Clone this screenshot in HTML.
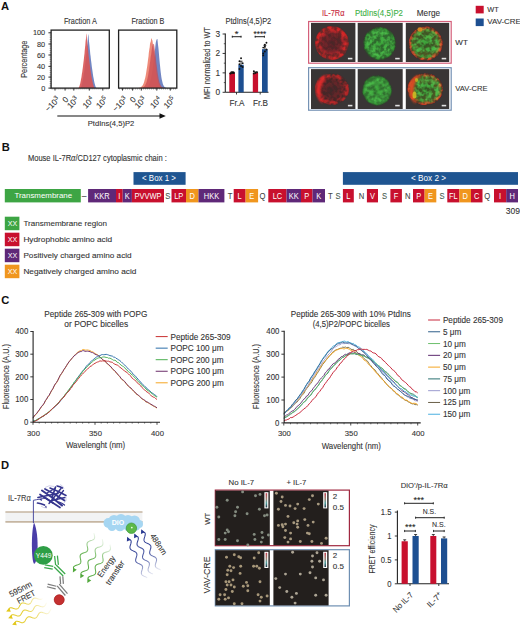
<!DOCTYPE html>
<html><head><meta charset="utf-8"><style>html,body{margin:0;padding:0;background:#fff;width:520px;height:626px;overflow:hidden}svg{display:block}text{font-variant-ligatures:none;font-kerning:normal}</style></head><body>
<svg width="520" height="626" viewBox="0 0 520 626" font-family='"Liberation Sans", sans-serif'>
<defs><filter id="tA" x="-10%" y="-10%" width="120%" height="120%"><feTurbulence type="fractalNoise" baseFrequency="0.24" numOctaves="2" seed="3" result="n"/><feColorMatrix in="n" type="matrix" values="0 0 0 0 0  0 0 0 0 0  0 0 0 0 0  3.0 0 0 0 -1.0" result="m"/><feComposite in="SourceGraphic" in2="m" operator="in" result="c"/><feGaussianBlur in="c" stdDeviation="0.6"/></filter><filter id="tB" x="-10%" y="-10%" width="120%" height="120%"><feTurbulence type="fractalNoise" baseFrequency="0.26" numOctaves="2" seed="9" result="n"/><feColorMatrix in="n" type="matrix" values="0 0 0 0 0  0 0 0 0 0  0 0 0 0 0  3.0 0 0 0 -1.0" result="m"/><feComposite in="SourceGraphic" in2="m" operator="in" result="c"/><feGaussianBlur in="c" stdDeviation="0.6"/></filter><filter id="tC" x="-10%" y="-10%" width="120%" height="120%"><feTurbulence type="fractalNoise" baseFrequency="0.25" numOctaves="2" seed="15" result="n"/><feColorMatrix in="n" type="matrix" values="0 0 0 0 0  0 0 0 0 0  0 0 0 0 0  3.0 0 0 0 -1.0" result="m"/><feComposite in="SourceGraphic" in2="m" operator="in" result="c"/><feGaussianBlur in="c" stdDeviation="0.6"/></filter><filter id="tD" x="-10%" y="-10%" width="120%" height="120%"><feTurbulence type="fractalNoise" baseFrequency="0.24" numOctaves="2" seed="21" result="n"/><feColorMatrix in="n" type="matrix" values="0 0 0 0 0  0 0 0 0 0  0 0 0 0 0  3.0 0 0 0 -1.0" result="m"/><feComposite in="SourceGraphic" in2="m" operator="in" result="c"/><feGaussianBlur in="c" stdDeviation="0.6"/></filter><filter id="tE" x="-10%" y="-10%" width="120%" height="120%"><feTurbulence type="fractalNoise" baseFrequency="0.26" numOctaves="2" seed="27" result="n"/><feColorMatrix in="n" type="matrix" values="0 0 0 0 0  0 0 0 0 0  0 0 0 0 0  3.0 0 0 0 -1.0" result="m"/><feComposite in="SourceGraphic" in2="m" operator="in" result="c"/><feGaussianBlur in="c" stdDeviation="0.6"/></filter><filter id="tF" x="-10%" y="-10%" width="120%" height="120%"><feTurbulence type="fractalNoise" baseFrequency="0.25" numOctaves="2" seed="33" result="n"/><feColorMatrix in="n" type="matrix" values="0 0 0 0 0  0 0 0 0 0  0 0 0 0 0  3.0 0 0 0 -1.0" result="m"/><feComposite in="SourceGraphic" in2="m" operator="in" result="c"/><feGaussianBlur in="c" stdDeviation="0.6"/></filter><filter id="tG" x="-10%" y="-10%" width="120%" height="120%"><feTurbulence type="fractalNoise" baseFrequency="0.25" numOctaves="2" seed="41" result="n"/><feColorMatrix in="n" type="matrix" values="0 0 0 0 0  0 0 0 0 0  0 0 0 0 0  3.0 0 0 0 -1.0" result="m"/><feComposite in="SourceGraphic" in2="m" operator="in" result="c"/><feGaussianBlur in="c" stdDeviation="0.6"/></filter><filter id="tH" x="-10%" y="-10%" width="120%" height="120%"><feTurbulence type="fractalNoise" baseFrequency="0.25" numOctaves="2" seed="47" result="n"/><feColorMatrix in="n" type="matrix" values="0 0 0 0 0  0 0 0 0 0  0 0 0 0 0  3.0 0 0 0 -1.0" result="m"/><feComposite in="SourceGraphic" in2="m" operator="in" result="c"/><feGaussianBlur in="c" stdDeviation="0.6"/></filter><filter id="blur03"><feGaussianBlur stdDeviation="0.35"/></filter><filter id="blur06"><feGaussianBlur stdDeviation="0.6"/></filter><filter id="blur1"><feGaussianBlur stdDeviation="1"/></filter><radialGradient id="redRing"><stop offset="0" stop-color="#d01828" stop-opacity="0.2"/><stop offset="0.5" stop-color="#e02030" stop-opacity="0.35"/><stop offset="0.8" stop-color="#f42828" stop-opacity="0.95"/><stop offset="0.92" stop-color="#f02020" stop-opacity="0.9"/><stop offset="1" stop-color="#d01020" stop-opacity="0"/></radialGradient><radialGradient id="redBase"><stop offset="0" stop-color="#461c1c" stop-opacity="0.7"/><stop offset="0.8" stop-color="#581a1a" stop-opacity="0.85"/><stop offset="1" stop-color="#501818" stop-opacity="0"/></radialGradient><radialGradient id="greenCell"><stop offset="0" stop-color="#40c840" stop-opacity="0.8"/><stop offset="0.7" stop-color="#50d850" stop-opacity="0.92"/><stop offset="0.9" stop-color="#38b838" stop-opacity="0.75"/><stop offset="1" stop-color="#108010" stop-opacity="0"/></radialGradient><radialGradient id="greenBase"><stop offset="0" stop-color="#226a22" stop-opacity="0.9"/><stop offset="0.85" stop-color="#247a24" stop-opacity="0.9"/><stop offset="1" stop-color="#184018" stop-opacity="0"/></radialGradient><radialGradient id="mergeRim"><stop offset="0" stop-color="#ff3020" stop-opacity="0"/><stop offset="0.72" stop-color="#ff3020" stop-opacity="0.1"/><stop offset="0.86" stop-color="#ff4020" stop-opacity="0.9"/><stop offset="0.95" stop-color="#f02818" stop-opacity="0.8"/><stop offset="1" stop-color="#d01010" stop-opacity="0"/></radialGradient><radialGradient id="mergeBase"><stop offset="0" stop-color="#2e6a1e" stop-opacity="0.95"/><stop offset="0.75" stop-color="#4a6a1e" stop-opacity="0.95"/><stop offset="0.92" stop-color="#7a3a1a" stop-opacity="0.9"/><stop offset="1" stop-color="#401818" stop-opacity="0"/></radialGradient><linearGradient id="gg0" gradientUnits="userSpaceOnUse" x1="94.9" y1="533.5" x2="73.1" y2="572.0"><stop offset="0" stop-color="#52a83c" stop-opacity="0.08"/><stop offset="0.45" stop-color="#52a83c" stop-opacity="0.85"/><stop offset="1" stop-color="#52a83c" stop-opacity="1"/></linearGradient><linearGradient id="gg1" gradientUnits="userSpaceOnUse" x1="103.4" y1="539.8" x2="80.5" y2="577.9"><stop offset="0" stop-color="#52a83c" stop-opacity="0.08"/><stop offset="0.45" stop-color="#52a83c" stop-opacity="0.85"/><stop offset="1" stop-color="#52a83c" stop-opacity="1"/></linearGradient><linearGradient id="gg2" gradientUnits="userSpaceOnUse" x1="110.8" y1="545.1" x2="87.5" y2="582.5"><stop offset="0" stop-color="#52a83c" stop-opacity="0.08"/><stop offset="0.45" stop-color="#52a83c" stop-opacity="0.85"/><stop offset="1" stop-color="#52a83c" stop-opacity="1"/></linearGradient><linearGradient id="bb0" gradientUnits="userSpaceOnUse" x1="145.7" y1="578.5" x2="127.3" y2="537.3"><stop offset="0" stop-color="#2a3a92" stop-opacity="0.1"/><stop offset="0.45" stop-color="#2a3a92" stop-opacity="0.85"/><stop offset="1" stop-color="#2a3a92" stop-opacity="1"/></linearGradient><linearGradient id="bb1" gradientUnits="userSpaceOnUse" x1="152.0" y1="574.5" x2="134.5" y2="533.9"><stop offset="0" stop-color="#2a3a92" stop-opacity="0.1"/><stop offset="0.45" stop-color="#2a3a92" stop-opacity="0.85"/><stop offset="1" stop-color="#2a3a92" stop-opacity="1"/></linearGradient><linearGradient id="bb2" gradientUnits="userSpaceOnUse" x1="159.4" y1="570.5" x2="141.4" y2="529.7"><stop offset="0" stop-color="#2a3a92" stop-opacity="0.1"/><stop offset="0.45" stop-color="#2a3a92" stop-opacity="0.85"/><stop offset="1" stop-color="#2a3a92" stop-opacity="1"/></linearGradient><linearGradient id="yy0" gradientUnits="userSpaceOnUse" x1="42.0" y1="597.0" x2="6.6" y2="611.2"><stop offset="0" stop-color="#e2c81c" stop-opacity="0.05"/><stop offset="0.55" stop-color="#e2c81c" stop-opacity="0.85"/><stop offset="1" stop-color="#e2c81c" stop-opacity="1"/></linearGradient><linearGradient id="yy1" gradientUnits="userSpaceOnUse" x1="47.0" y1="603.5" x2="8.6" y2="618.0"><stop offset="0" stop-color="#e2c81c" stop-opacity="0.05"/><stop offset="0.55" stop-color="#e2c81c" stop-opacity="0.85"/><stop offset="1" stop-color="#e2c81c" stop-opacity="1"/></linearGradient><linearGradient id="yy2" gradientUnits="userSpaceOnUse" x1="52.0" y1="610.0" x2="12.6" y2="624.6"><stop offset="0" stop-color="#e2c81c" stop-opacity="0.05"/><stop offset="0.55" stop-color="#e2c81c" stop-opacity="0.85"/><stop offset="1" stop-color="#e2c81c" stop-opacity="1"/></linearGradient><linearGradient id="cbar" x1="0" y1="0" x2="0" y2="1"><stop offset="0" stop-color="#c04050"/><stop offset="0.4" stop-color="#a08070"/><stop offset="0.7" stop-color="#50a0a0"/><stop offset="1" stop-color="#203040"/></linearGradient><filter id="dotblur" x="-50%" y="-50%" width="200%" height="200%"><feGaussianBlur stdDeviation="0.45"/></filter></defs>
<rect width="520" height="626" fill="#fff"/>
<text x="1.00" y="9.90" font-size="11.2" text-anchor="start" fill="#111" font-weight="bold">A</text>
<text x="80.40" y="23.90" font-size="9.2" text-anchor="middle" fill="#333" stroke="#333" stroke-width="0.1" textLength="33" lengthAdjust="spacingAndGlyphs">Fraction A</text>
<path d="M79.00,88.10 L79.00,88.10 L79.20,88.10 L79.40,88.10 L79.60,88.10 L79.80,88.10 L80.00,88.10 L80.20,88.10 L80.40,88.06 L80.60,87.86 L80.80,87.55 L81.00,87.11 L81.20,86.62 L81.40,86.02 L81.60,85.42 L81.80,84.66 L82.00,83.84 L82.20,83.06 L82.40,82.02 L82.60,81.05 L82.80,80.22 L83.00,79.15 L83.20,77.87 L83.40,76.55 L83.60,75.50 L83.80,74.29 L84.00,72.87 L84.20,71.68 L84.40,70.16 L84.60,68.57 L84.80,67.01 L85.00,65.62 L85.20,64.02 L85.40,62.39 L85.60,60.51 L85.80,58.92 L86.00,57.39 L86.20,54.79 L86.40,53.20 L86.60,51.20 L86.80,49.77 L87.00,46.82 L87.20,44.94 L87.40,43.85 L87.60,41.48 L87.80,38.78 L88.00,36.61 L88.20,34.02 L88.40,34.82 L88.60,36.34 L88.80,38.72 L89.00,41.34 L89.20,42.99 L89.40,44.64 L89.60,46.68 L89.80,49.04 L90.00,50.85 L90.20,53.31 L90.40,54.91 L90.60,56.16 L90.80,58.27 L91.00,60.18 L91.20,61.54 L91.40,63.05 L91.60,64.67 L91.80,66.43 L92.00,67.89 L92.20,69.31 L92.40,70.59 L92.60,72.10 L92.80,73.49 L93.00,74.73 L93.20,76.13 L93.40,77.30 L93.60,78.23 L93.80,79.26 L94.00,80.40 L94.20,81.43 L94.40,82.40 L94.60,83.22 L94.80,83.98 L95.00,84.77 L95.20,85.49 L95.40,86.10 L95.60,86.69 L95.80,87.16 L96.00,87.55 L96.20,87.87 L96.40,88.06 L96.60,88.10 L96.80,88.10 L97.00,88.10 L97.00,88.10 Z" fill="#6a80c0" fill-opacity="0.95"/>
<path d="M77.50,88.10 L77.50,88.10 L77.70,88.10 L77.90,88.10 L78.10,88.10 L78.30,88.10 L78.50,88.06 L78.70,87.85 L78.90,87.53 L79.10,87.12 L79.30,86.62 L79.50,85.99 L79.70,85.36 L79.90,84.59 L80.10,83.89 L80.30,82.97 L80.50,82.00 L80.70,81.11 L80.90,79.91 L81.10,78.81 L81.30,77.92 L81.50,76.73 L81.70,75.30 L81.90,73.83 L82.10,72.72 L82.30,71.40 L82.50,69.86 L82.70,68.60 L82.90,66.95 L83.10,65.23 L83.30,63.56 L83.50,62.10 L83.70,60.39 L83.90,58.66 L84.10,56.64 L84.30,54.97 L84.50,53.38 L84.70,50.57 L84.90,48.92 L85.10,46.80 L85.30,45.34 L85.50,42.18 L85.70,40.21 L85.90,39.13 L86.10,36.63 L86.30,33.77 L86.50,33.74 L86.70,35.53 L86.90,38.42 L87.10,39.90 L87.30,42.16 L87.50,44.65 L87.70,46.24 L87.90,47.81 L88.10,49.76 L88.30,52.00 L88.50,53.73 L88.70,56.05 L88.90,57.58 L89.10,58.78 L89.30,60.77 L89.50,62.58 L89.70,63.88 L89.90,65.32 L90.10,66.85 L90.30,68.50 L90.50,69.88 L90.70,71.22 L90.90,72.43 L91.10,73.85 L91.30,75.15 L91.50,76.31 L91.70,77.61 L91.90,78.70 L92.10,79.58 L92.30,80.53 L92.50,81.58 L92.70,82.52 L92.90,83.40 L93.10,84.15 L93.30,84.84 L93.50,85.54 L93.70,86.17 L93.90,86.70 L94.10,87.19 L94.30,87.58 L94.50,87.87 L94.70,88.06 L94.90,88.10 L95.10,88.10 L95.30,88.10 L95.50,88.10 L95.50,88.10 Z" fill="#d85454" fill-opacity="0.9"/>
<rect x="51.10" y="30.10" width="58.20" height="58.00" fill="none" stroke="#222" stroke-width="1.3"/>
<line x1="55.00" y1="88.10" x2="55.00" y2="90.60" stroke="#222" stroke-width="0.9"/>
<line x1="65.10" y1="88.10" x2="65.10" y2="90.60" stroke="#222" stroke-width="0.9"/>
<line x1="73.80" y1="88.10" x2="73.80" y2="90.60" stroke="#222" stroke-width="0.9"/>
<line x1="89.30" y1="88.10" x2="89.30" y2="90.60" stroke="#222" stroke-width="0.9"/>
<line x1="102.80" y1="88.10" x2="102.80" y2="90.60" stroke="#222" stroke-width="0.9"/>
<line x1="52.10" y1="88.10" x2="52.10" y2="89.50" stroke="#333" stroke-width="0.5"/>
<line x1="54.10" y1="88.10" x2="54.10" y2="89.50" stroke="#333" stroke-width="0.5"/>
<line x1="56.10" y1="88.10" x2="56.10" y2="89.50" stroke="#333" stroke-width="0.5"/>
<line x1="58.10" y1="88.10" x2="58.10" y2="89.50" stroke="#333" stroke-width="0.5"/>
<line x1="60.10" y1="88.10" x2="60.10" y2="89.50" stroke="#333" stroke-width="0.5"/>
<line x1="62.10" y1="88.10" x2="62.10" y2="89.50" stroke="#333" stroke-width="0.5"/>
<line x1="64.10" y1="88.10" x2="64.10" y2="89.50" stroke="#333" stroke-width="0.5"/>
<line x1="66.10" y1="88.10" x2="66.10" y2="89.50" stroke="#333" stroke-width="0.5"/>
<line x1="68.10" y1="88.10" x2="68.10" y2="89.50" stroke="#333" stroke-width="0.5"/>
<line x1="70.10" y1="88.10" x2="70.10" y2="89.50" stroke="#333" stroke-width="0.5"/>
<line x1="72.10" y1="88.10" x2="72.10" y2="89.50" stroke="#333" stroke-width="0.5"/>
<line x1="74.10" y1="88.10" x2="74.10" y2="89.50" stroke="#333" stroke-width="0.5"/>
<line x1="76.10" y1="88.10" x2="76.10" y2="89.50" stroke="#333" stroke-width="0.5"/>
<line x1="78.10" y1="88.10" x2="78.10" y2="89.50" stroke="#333" stroke-width="0.5"/>
<line x1="80.10" y1="88.10" x2="80.10" y2="89.50" stroke="#333" stroke-width="0.5"/>
<line x1="82.10" y1="88.10" x2="82.10" y2="89.50" stroke="#333" stroke-width="0.5"/>
<line x1="84.10" y1="88.10" x2="84.10" y2="89.50" stroke="#333" stroke-width="0.5"/>
<line x1="86.10" y1="88.10" x2="86.10" y2="89.50" stroke="#333" stroke-width="0.5"/>
<line x1="88.10" y1="88.10" x2="88.10" y2="89.50" stroke="#333" stroke-width="0.5"/>
<line x1="90.10" y1="88.10" x2="90.10" y2="89.50" stroke="#333" stroke-width="0.5"/>
<line x1="92.10" y1="88.10" x2="92.10" y2="89.50" stroke="#333" stroke-width="0.5"/>
<line x1="94.10" y1="88.10" x2="94.10" y2="89.50" stroke="#333" stroke-width="0.5"/>
<line x1="96.10" y1="88.10" x2="96.10" y2="89.50" stroke="#333" stroke-width="0.5"/>
<line x1="98.10" y1="88.10" x2="98.10" y2="89.50" stroke="#333" stroke-width="0.5"/>
<line x1="100.10" y1="88.10" x2="100.10" y2="89.50" stroke="#333" stroke-width="0.5"/>
<line x1="102.10" y1="88.10" x2="102.10" y2="89.50" stroke="#333" stroke-width="0.5"/>
<line x1="104.10" y1="88.10" x2="104.10" y2="89.50" stroke="#333" stroke-width="0.5"/>
<line x1="106.10" y1="88.10" x2="106.10" y2="89.50" stroke="#333" stroke-width="0.5"/>
<line x1="108.10" y1="88.10" x2="108.10" y2="89.50" stroke="#333" stroke-width="0.5"/>
<text x="60.40" y="100.10" font-size="8.2" text-anchor="end" fill="#333" stroke="#333" stroke-width="0.1" transform="rotate(-45 60.40 100.10)">−10<tspan dy="-3" font-size="6">3</tspan></text>
<text x="69.10" y="100.10" font-size="8.2" text-anchor="end" fill="#333" stroke="#333" stroke-width="0.1" transform="rotate(-45 69.10 100.10)">0</text>
<text x="79.20" y="100.10" font-size="8.2" text-anchor="end" fill="#333" stroke="#333" stroke-width="0.1" transform="rotate(-45 79.20 100.10)">10<tspan dy="-3" font-size="6">3</tspan></text>
<text x="94.70" y="100.10" font-size="8.2" text-anchor="end" fill="#333" stroke="#333" stroke-width="0.1" transform="rotate(-45 94.70 100.10)">10<tspan dy="-3" font-size="6">4</tspan></text>
<text x="108.20" y="100.10" font-size="8.2" text-anchor="end" fill="#333" stroke="#333" stroke-width="0.1" transform="rotate(-45 108.20 100.10)">10<tspan dy="-3" font-size="6">5</tspan></text>
<text x="147.90" y="23.90" font-size="9.2" text-anchor="middle" fill="#333" stroke="#333" stroke-width="0.1" textLength="33" lengthAdjust="spacingAndGlyphs">Fraction B</text>
<path d="M140.00,88.10 L140.00,88.10 L140.30,88.10 L140.60,88.09 L140.90,88.09 L141.20,88.09 L141.50,88.09 L141.80,88.08 L142.10,88.08 L142.40,88.07 L142.70,88.06 L143.00,88.05 L143.30,88.03 L143.60,88.01 L143.90,87.99 L144.20,87.96 L144.50,87.92 L144.80,87.88 L145.10,87.82 L145.40,87.75 L145.70,87.68 L146.00,87.59 L146.30,87.45 L146.60,87.29 L146.90,87.14 L147.20,86.93 L147.50,86.67 L147.80,86.41 L148.10,86.05 L148.40,85.62 L148.70,85.14 L149.00,84.62 L149.30,83.99 L149.60,83.27 L149.90,82.39 L150.20,81.49 L150.50,80.52 L150.80,79.06 L151.10,77.83 L151.40,76.31 L151.70,74.93 L152.00,72.71 L152.30,70.85 L152.60,69.34 L152.90,67.01 L153.20,64.35 L153.50,61.93 L153.80,59.16 L154.10,57.20 L154.40,54.08 L154.70,51.70 L155.00,49.74 L155.30,46.87 L155.60,44.09 L155.90,42.09 L156.20,40.95 L156.50,39.39 L156.80,39.57 L157.10,39.03 L157.40,39.08 L157.70,41.74 L158.00,44.66 L158.30,46.90 L158.60,49.84 L158.90,53.23 L159.20,56.99 L159.50,60.23 L159.80,63.38 L160.10,66.20 L160.40,69.28 L160.70,71.98 L161.00,74.30 L161.30,76.64 L161.60,78.49 L161.90,79.89 L162.20,81.25 L162.50,82.58 L162.80,83.65 L163.10,84.55 L163.40,85.22 L163.70,85.77 L164.00,86.28 L164.30,86.69 L164.60,86.99 L164.90,87.26 L165.20,87.45 L165.50,87.60 L165.80,87.73 L166.10,87.82 L166.40,87.89 L166.70,87.95 L167.00,87.98 L167.00,88.10 Z" fill="#6a80c0" fill-opacity="0.95"/>
<path d="M138.00,88.10 L138.00,87.99 L138.30,87.95 L138.60,87.91 L138.90,87.87 L139.20,87.81 L139.50,87.74 L139.80,87.65 L140.10,87.54 L140.40,87.43 L140.70,87.28 L141.00,87.06 L141.30,86.86 L141.60,86.58 L141.90,86.32 L142.20,85.93 L142.50,85.48 L142.80,85.05 L143.10,84.39 L143.40,83.74 L143.70,83.16 L144.00,82.35 L144.30,81.28 L144.60,80.10 L144.90,79.11 L145.20,77.89 L145.50,76.38 L145.80,75.04 L146.10,73.28 L146.40,71.34 L146.70,69.36 L147.00,67.53 L147.30,65.41 L147.60,63.20 L147.90,60.66 L148.20,58.51 L148.50,56.50 L148.80,53.05 L149.10,51.11 L149.40,48.72 L149.70,47.33 L150.00,43.99 L150.30,42.42 L150.60,42.25 L150.90,40.63 L151.20,38.99 L151.50,38.53 L151.80,38.23 L152.10,40.02 L152.40,40.51 L152.70,42.47 L153.00,45.10 L153.30,46.86 L153.60,48.84 L153.90,51.51 L154.20,54.66 L154.50,57.25 L154.80,60.56 L155.10,62.93 L155.40,64.94 L155.70,67.71 L156.00,70.17 L156.30,72.05 L156.60,73.95 L156.90,75.79 L157.20,77.58 L157.50,79.04 L157.80,80.34 L158.10,81.44 L158.40,82.54 L158.70,83.46 L159.00,84.22 L159.30,84.95 L159.60,85.50 L159.90,85.92 L160.20,86.30 L160.50,86.67 L160.80,86.96 L161.10,87.19 L161.40,87.37 L161.70,87.51 L162.00,87.64 L162.30,87.74 L162.60,87.82 L162.90,87.89 L163.20,87.94 L163.50,87.97 L163.80,88.00 L164.10,88.03 L164.40,88.05 L164.70,88.06 L165.00,88.07 L165.00,88.10 Z" fill="#ec7a66" fill-opacity="0.88"/>
<path d="M139.00,88.10 L139.00,88.08 L139.29,88.07 L139.58,88.06 L139.87,88.05 L140.16,88.03 L140.44,88.01 L140.73,87.98 L141.02,87.95 L141.31,87.92 L141.60,87.87 L141.89,87.80 L142.18,87.73 L142.47,87.63 L142.76,87.54 L143.04,87.40 L143.33,87.23 L143.62,87.05 L143.91,86.79 L144.20,86.51 L144.49,86.25 L144.78,85.89 L145.07,85.40 L145.36,84.84 L145.64,84.33 L145.93,83.70 L146.22,82.91 L146.51,82.15 L146.80,81.14 L147.09,80.01 L147.38,78.80 L147.67,77.59 L147.96,76.17 L148.24,74.64 L148.53,72.83 L148.82,71.15 L149.11,69.47 L149.40,66.83 L149.69,64.99 L149.98,62.76 L150.27,61.07 L150.56,57.96 L150.84,55.91 L151.13,54.75 L151.42,52.44 L151.71,49.95 L152.00,48.20 L152.29,46.26 L152.58,45.81 L152.87,44.10 L153.16,43.72 L153.44,44.16 L153.73,44.12 L154.02,44.60 L154.31,46.07 L154.60,48.36 L154.89,50.23 L155.18,53.24 L155.47,55.27 L155.76,57.02 L156.04,59.98 L156.33,62.72 L156.62,64.78 L156.91,67.03 L157.20,69.34 L157.49,71.70 L157.78,73.65 L158.07,75.45 L158.36,77.02 L158.64,78.66 L158.93,80.07 L159.22,81.26 L159.51,82.43 L159.80,83.35 L160.09,84.04 L160.38,84.70 L160.67,85.35 L160.96,85.87 L161.24,86.31 L161.53,86.63 L161.82,86.90 L162.11,87.15 L162.40,87.36 L162.69,87.51 L162.98,87.65 L163.27,87.74 L163.56,87.82 L163.84,87.89 L164.13,87.94 L164.42,87.98 L164.71,88.01 L165.00,88.03 L165.00,88.10 Z" fill="#c84850" fill-opacity="0.7"/>
<rect x="118.60" y="30.10" width="58.20" height="58.00" fill="none" stroke="#222" stroke-width="1.3"/>
<line x1="122.50" y1="88.10" x2="122.50" y2="90.60" stroke="#222" stroke-width="0.9"/>
<line x1="132.60" y1="88.10" x2="132.60" y2="90.60" stroke="#222" stroke-width="0.9"/>
<line x1="141.30" y1="88.10" x2="141.30" y2="90.60" stroke="#222" stroke-width="0.9"/>
<line x1="156.80" y1="88.10" x2="156.80" y2="90.60" stroke="#222" stroke-width="0.9"/>
<line x1="170.30" y1="88.10" x2="170.30" y2="90.60" stroke="#222" stroke-width="0.9"/>
<line x1="119.60" y1="88.10" x2="119.60" y2="89.50" stroke="#333" stroke-width="0.5"/>
<line x1="121.60" y1="88.10" x2="121.60" y2="89.50" stroke="#333" stroke-width="0.5"/>
<line x1="123.60" y1="88.10" x2="123.60" y2="89.50" stroke="#333" stroke-width="0.5"/>
<line x1="125.60" y1="88.10" x2="125.60" y2="89.50" stroke="#333" stroke-width="0.5"/>
<line x1="127.60" y1="88.10" x2="127.60" y2="89.50" stroke="#333" stroke-width="0.5"/>
<line x1="129.60" y1="88.10" x2="129.60" y2="89.50" stroke="#333" stroke-width="0.5"/>
<line x1="131.60" y1="88.10" x2="131.60" y2="89.50" stroke="#333" stroke-width="0.5"/>
<line x1="133.60" y1="88.10" x2="133.60" y2="89.50" stroke="#333" stroke-width="0.5"/>
<line x1="135.60" y1="88.10" x2="135.60" y2="89.50" stroke="#333" stroke-width="0.5"/>
<line x1="137.60" y1="88.10" x2="137.60" y2="89.50" stroke="#333" stroke-width="0.5"/>
<line x1="139.60" y1="88.10" x2="139.60" y2="89.50" stroke="#333" stroke-width="0.5"/>
<line x1="141.60" y1="88.10" x2="141.60" y2="89.50" stroke="#333" stroke-width="0.5"/>
<line x1="143.60" y1="88.10" x2="143.60" y2="89.50" stroke="#333" stroke-width="0.5"/>
<line x1="145.60" y1="88.10" x2="145.60" y2="89.50" stroke="#333" stroke-width="0.5"/>
<line x1="147.60" y1="88.10" x2="147.60" y2="89.50" stroke="#333" stroke-width="0.5"/>
<line x1="149.60" y1="88.10" x2="149.60" y2="89.50" stroke="#333" stroke-width="0.5"/>
<line x1="151.60" y1="88.10" x2="151.60" y2="89.50" stroke="#333" stroke-width="0.5"/>
<line x1="153.60" y1="88.10" x2="153.60" y2="89.50" stroke="#333" stroke-width="0.5"/>
<line x1="155.60" y1="88.10" x2="155.60" y2="89.50" stroke="#333" stroke-width="0.5"/>
<line x1="157.60" y1="88.10" x2="157.60" y2="89.50" stroke="#333" stroke-width="0.5"/>
<line x1="159.60" y1="88.10" x2="159.60" y2="89.50" stroke="#333" stroke-width="0.5"/>
<line x1="161.60" y1="88.10" x2="161.60" y2="89.50" stroke="#333" stroke-width="0.5"/>
<line x1="163.60" y1="88.10" x2="163.60" y2="89.50" stroke="#333" stroke-width="0.5"/>
<line x1="165.60" y1="88.10" x2="165.60" y2="89.50" stroke="#333" stroke-width="0.5"/>
<line x1="167.60" y1="88.10" x2="167.60" y2="89.50" stroke="#333" stroke-width="0.5"/>
<line x1="169.60" y1="88.10" x2="169.60" y2="89.50" stroke="#333" stroke-width="0.5"/>
<line x1="171.60" y1="88.10" x2="171.60" y2="89.50" stroke="#333" stroke-width="0.5"/>
<line x1="173.60" y1="88.10" x2="173.60" y2="89.50" stroke="#333" stroke-width="0.5"/>
<line x1="175.60" y1="88.10" x2="175.60" y2="89.50" stroke="#333" stroke-width="0.5"/>
<text x="127.90" y="100.10" font-size="8.2" text-anchor="end" fill="#333" stroke="#333" stroke-width="0.1" transform="rotate(-45 127.90 100.10)">−10<tspan dy="-3" font-size="6">3</tspan></text>
<text x="136.60" y="100.10" font-size="8.2" text-anchor="end" fill="#333" stroke="#333" stroke-width="0.1" transform="rotate(-45 136.60 100.10)">0</text>
<text x="146.70" y="100.10" font-size="8.2" text-anchor="end" fill="#333" stroke="#333" stroke-width="0.1" transform="rotate(-45 146.70 100.10)">10<tspan dy="-3" font-size="6">3</tspan></text>
<text x="162.20" y="100.10" font-size="8.2" text-anchor="end" fill="#333" stroke="#333" stroke-width="0.1" transform="rotate(-45 162.20 100.10)">10<tspan dy="-3" font-size="6">4</tspan></text>
<text x="175.70" y="100.10" font-size="8.2" text-anchor="end" fill="#333" stroke="#333" stroke-width="0.1" transform="rotate(-45 175.70 100.10)">10<tspan dy="-3" font-size="6">5</tspan></text>
<line x1="48.40" y1="32.80" x2="51.10" y2="32.80" stroke="#222" stroke-width="0.9"/>
<text x="45.20" y="35.40" font-size="7.3" text-anchor="end" fill="#333" stroke="#333" stroke-width="0.1">100</text>
<line x1="48.40" y1="44.00" x2="51.10" y2="44.00" stroke="#222" stroke-width="0.9"/>
<text x="45.20" y="46.60" font-size="7.3" text-anchor="end" fill="#333" stroke="#333" stroke-width="0.1">80</text>
<line x1="48.40" y1="55.00" x2="51.10" y2="55.00" stroke="#222" stroke-width="0.9"/>
<text x="45.20" y="57.60" font-size="7.3" text-anchor="end" fill="#333" stroke="#333" stroke-width="0.1">60</text>
<line x1="48.40" y1="66.40" x2="51.10" y2="66.40" stroke="#222" stroke-width="0.9"/>
<text x="45.20" y="69.00" font-size="7.3" text-anchor="end" fill="#333" stroke="#333" stroke-width="0.1">40</text>
<line x1="48.40" y1="77.10" x2="51.10" y2="77.10" stroke="#222" stroke-width="0.9"/>
<text x="45.20" y="79.70" font-size="7.3" text-anchor="end" fill="#333" stroke="#333" stroke-width="0.1">20</text>
<line x1="48.40" y1="88.10" x2="51.10" y2="88.10" stroke="#222" stroke-width="0.9"/>
<text x="45.20" y="90.70" font-size="7.3" text-anchor="end" fill="#333" stroke="#333" stroke-width="0.1">0</text>
<line x1="49.70" y1="32.80" x2="51.10" y2="32.80" stroke="#333" stroke-width="0.5"/>
<line x1="49.70" y1="35.01" x2="51.10" y2="35.01" stroke="#333" stroke-width="0.5"/>
<line x1="49.70" y1="37.22" x2="51.10" y2="37.22" stroke="#333" stroke-width="0.5"/>
<line x1="49.70" y1="39.44" x2="51.10" y2="39.44" stroke="#333" stroke-width="0.5"/>
<line x1="49.70" y1="41.65" x2="51.10" y2="41.65" stroke="#333" stroke-width="0.5"/>
<line x1="49.70" y1="43.86" x2="51.10" y2="43.86" stroke="#333" stroke-width="0.5"/>
<line x1="49.70" y1="46.07" x2="51.10" y2="46.07" stroke="#333" stroke-width="0.5"/>
<line x1="49.70" y1="48.28" x2="51.10" y2="48.28" stroke="#333" stroke-width="0.5"/>
<line x1="49.70" y1="50.50" x2="51.10" y2="50.50" stroke="#333" stroke-width="0.5"/>
<line x1="49.70" y1="52.71" x2="51.10" y2="52.71" stroke="#333" stroke-width="0.5"/>
<line x1="49.70" y1="54.92" x2="51.10" y2="54.92" stroke="#333" stroke-width="0.5"/>
<line x1="49.70" y1="57.13" x2="51.10" y2="57.13" stroke="#333" stroke-width="0.5"/>
<line x1="49.70" y1="59.34" x2="51.10" y2="59.34" stroke="#333" stroke-width="0.5"/>
<line x1="49.70" y1="61.56" x2="51.10" y2="61.56" stroke="#333" stroke-width="0.5"/>
<line x1="49.70" y1="63.77" x2="51.10" y2="63.77" stroke="#333" stroke-width="0.5"/>
<line x1="49.70" y1="65.98" x2="51.10" y2="65.98" stroke="#333" stroke-width="0.5"/>
<line x1="49.70" y1="68.19" x2="51.10" y2="68.19" stroke="#333" stroke-width="0.5"/>
<line x1="49.70" y1="70.40" x2="51.10" y2="70.40" stroke="#333" stroke-width="0.5"/>
<line x1="49.70" y1="72.62" x2="51.10" y2="72.62" stroke="#333" stroke-width="0.5"/>
<line x1="49.70" y1="74.83" x2="51.10" y2="74.83" stroke="#333" stroke-width="0.5"/>
<line x1="49.70" y1="77.04" x2="51.10" y2="77.04" stroke="#333" stroke-width="0.5"/>
<line x1="49.70" y1="79.25" x2="51.10" y2="79.25" stroke="#333" stroke-width="0.5"/>
<line x1="49.70" y1="81.46" x2="51.10" y2="81.46" stroke="#333" stroke-width="0.5"/>
<line x1="49.70" y1="83.68" x2="51.10" y2="83.68" stroke="#333" stroke-width="0.5"/>
<line x1="49.70" y1="85.89" x2="51.10" y2="85.89" stroke="#333" stroke-width="0.5"/>
<line x1="49.70" y1="88.10" x2="51.10" y2="88.10" stroke="#333" stroke-width="0.5"/>
<text x="26.60" y="59.20" font-size="9.4" text-anchor="middle" fill="#333" stroke="#333" stroke-width="0.1" textLength="37" lengthAdjust="spacingAndGlyphs" transform="rotate(-90 26.60 59.20)">Percentage</text>
<line x1="57.30" y1="116.00" x2="162.00" y2="116.00" stroke="#111" stroke-width="1.1"/>
<path d="M165.8,116 L159.5,113.2 L159.5,118.8 Z" fill="#111"/>
<text x="111.00" y="125.90" font-size="7.6" text-anchor="middle" fill="#333" stroke="#333" stroke-width="0.1" textLength="46.4" lengthAdjust="spacingAndGlyphs">PtdIns(4,5)P2</text>
<text x="248.40" y="23.60" font-size="8.5" text-anchor="middle" fill="#333" stroke="#333" stroke-width="0.1" textLength="45.8" lengthAdjust="spacingAndGlyphs">PtdIns(4,5)P2</text>
<line x1="225.30" y1="33.50" x2="225.30" y2="92.30" stroke="#222" stroke-width="1.1"/>
<line x1="225.30" y1="92.30" x2="268.50" y2="92.30" stroke="#222" stroke-width="1.1"/>
<line x1="222.60" y1="92.30" x2="225.30" y2="92.30" stroke="#222" stroke-width="0.9"/>
<text x="220.20" y="95.20" font-size="8.3" text-anchor="end" fill="#333" stroke="#333" stroke-width="0.1">0</text>
<line x1="222.60" y1="72.87" x2="225.30" y2="72.87" stroke="#222" stroke-width="0.9"/>
<text x="220.20" y="75.77" font-size="8.3" text-anchor="end" fill="#333" stroke="#333" stroke-width="0.1">1</text>
<line x1="222.60" y1="53.44" x2="225.30" y2="53.44" stroke="#222" stroke-width="0.9"/>
<text x="220.20" y="56.34" font-size="8.3" text-anchor="end" fill="#333" stroke="#333" stroke-width="0.1">2</text>
<line x1="222.60" y1="34.01" x2="225.30" y2="34.01" stroke="#222" stroke-width="0.9"/>
<text x="220.20" y="36.91" font-size="8.3" text-anchor="end" fill="#333" stroke="#333" stroke-width="0.1">3</text>
<line x1="223.80" y1="82.58" x2="225.30" y2="82.58" stroke="#222" stroke-width="0.7"/>
<line x1="223.80" y1="63.16" x2="225.30" y2="63.16" stroke="#222" stroke-width="0.7"/>
<line x1="223.80" y1="43.72" x2="225.30" y2="43.72" stroke="#222" stroke-width="0.7"/>
<line x1="236.50" y1="92.30" x2="236.50" y2="94.50" stroke="#222" stroke-width="0.9"/>
<line x1="260.20" y1="92.30" x2="260.20" y2="94.50" stroke="#222" stroke-width="0.9"/>
<rect x="229.30" y="72.87" width="5.70" height="19.43" fill="#c8102e"/>
<line x1="232.15" y1="71.70" x2="232.15" y2="72.87" stroke="#111" stroke-width="0.8"/>
<line x1="230.65" y1="71.70" x2="233.65" y2="71.70" stroke="#111" stroke-width="0.8"/>
<rect x="238.40" y="64.71" width="5.30" height="27.59" fill="#1d4f91"/>
<line x1="241.05" y1="61.21" x2="241.05" y2="64.71" stroke="#111" stroke-width="0.8"/>
<line x1="239.55" y1="61.21" x2="242.55" y2="61.21" stroke="#111" stroke-width="0.8"/>
<rect x="252.80" y="72.87" width="5.30" height="19.43" fill="#c8102e"/>
<line x1="255.45" y1="71.90" x2="255.45" y2="72.87" stroke="#111" stroke-width="0.8"/>
<line x1="253.95" y1="71.90" x2="256.95" y2="71.90" stroke="#111" stroke-width="0.8"/>
<rect x="262.00" y="49.17" width="5.70" height="43.13" fill="#1d4f91"/>
<line x1="264.85" y1="45.28" x2="264.85" y2="49.17" stroke="#111" stroke-width="0.8"/>
<line x1="263.35" y1="45.28" x2="266.35" y2="45.28" stroke="#111" stroke-width="0.8"/>
<circle cx="230.55" cy="73.26" r="0.95" fill="#111"/>
<circle cx="232.15" cy="72.87" r="0.95" fill="#111"/>
<circle cx="233.75" cy="72.48" r="0.95" fill="#111"/>
<circle cx="230.55" cy="73.45" r="0.95" fill="#111"/>
<circle cx="232.15" cy="72.68" r="0.95" fill="#111"/>
<circle cx="233.75" cy="73.06" r="0.95" fill="#111"/>
<circle cx="239.45" cy="68.98" r="0.95" fill="#111"/>
<circle cx="241.05" cy="66.07" r="0.95" fill="#111"/>
<circle cx="242.65" cy="63.16" r="0.95" fill="#111"/>
<circle cx="239.45" cy="61.21" r="0.95" fill="#111"/>
<circle cx="241.05" cy="58.30" r="0.95" fill="#111"/>
<circle cx="242.65" cy="67.04" r="0.95" fill="#111"/>
<circle cx="239.45" cy="64.13" r="0.95" fill="#111"/>
<circle cx="253.85" cy="73.45" r="0.95" fill="#111"/>
<circle cx="255.45" cy="72.87" r="0.95" fill="#111"/>
<circle cx="257.05" cy="72.29" r="0.95" fill="#111"/>
<circle cx="253.85" cy="71.32" r="0.95" fill="#111"/>
<circle cx="255.45" cy="72.87" r="0.95" fill="#111"/>
<circle cx="263.25" cy="55.38" r="0.95" fill="#111"/>
<circle cx="264.85" cy="51.50" r="0.95" fill="#111"/>
<circle cx="266.45" cy="49.55" r="0.95" fill="#111"/>
<circle cx="263.25" cy="47.61" r="0.95" fill="#111"/>
<circle cx="264.85" cy="44.70" r="0.95" fill="#111"/>
<circle cx="266.45" cy="42.75" r="0.95" fill="#111"/>
<circle cx="263.25" cy="53.44" r="0.95" fill="#111"/>
<circle cx="264.85" cy="46.64" r="0.95" fill="#111"/>
<line x1="231.90" y1="36.70" x2="241.40" y2="36.70" stroke="#222" stroke-width="1.0"/>
<line x1="232.30" y1="35.70" x2="232.30" y2="37.70" stroke="#222" stroke-width="0.9"/>
<line x1="241.00" y1="35.70" x2="241.00" y2="37.70" stroke="#222" stroke-width="0.9"/>
<text x="236.70" y="37.20" font-size="9.5" text-anchor="middle" fill="#222" stroke="#222" stroke-width="0.1">*</text>
<line x1="254.80" y1="36.70" x2="264.80" y2="36.70" stroke="#222" stroke-width="1.0"/>
<line x1="255.20" y1="35.70" x2="255.20" y2="37.70" stroke="#222" stroke-width="0.9"/>
<line x1="264.40" y1="35.70" x2="264.40" y2="37.70" stroke="#222" stroke-width="0.9"/>
<text x="259.90" y="37.20" font-size="9.5" text-anchor="middle" fill="#222" stroke="#222" stroke-width="0.1" textLength="12.6" lengthAdjust="spacingAndGlyphs">****</text>
<text x="210.20" y="63.00" font-size="9.8" text-anchor="middle" fill="#333" stroke="#333" stroke-width="0.1" textLength="72" lengthAdjust="spacingAndGlyphs" transform="rotate(-90 210.20 63.00)">MFI normalized to WT</text>
<text x="236.90" y="105.70" font-size="8.5" text-anchor="middle" fill="#333" stroke="#333" stroke-width="0.1" textLength="15" lengthAdjust="spacingAndGlyphs">Fr.A</text>
<text x="260.50" y="105.70" font-size="8.5" text-anchor="middle" fill="#333" stroke="#333" stroke-width="0.1" textLength="15" lengthAdjust="spacingAndGlyphs">Fr.B</text>
<text x="333.30" y="15.80" font-size="8.4" text-anchor="middle" fill="#c8283c" stroke="#c8283c" stroke-width="0.1" textLength="22.5" lengthAdjust="spacingAndGlyphs">IL-7R&#945;</text>
<text x="379.00" y="15.80" font-size="8.4" text-anchor="middle" fill="#3cb043" stroke="#3cb043" stroke-width="0.1" textLength="48" lengthAdjust="spacingAndGlyphs">PtdIns(4,5)P2</text>
<text x="428.40" y="15.80" font-size="8.3" text-anchor="middle" fill="#333" stroke="#333" stroke-width="0.1" textLength="23.2" lengthAdjust="spacingAndGlyphs">Merge</text>
<rect x="475.70" y="5.80" width="8.00" height="7.60" fill="#c8102e"/>
<text x="487.30" y="12.10" font-size="8.0" text-anchor="start" fill="#333" stroke="#333" stroke-width="0.1" textLength="11.5" lengthAdjust="spacingAndGlyphs">WT</text>
<rect x="475.70" y="18.50" width="8.00" height="7.60" fill="#1d4f91"/>
<text x="487.30" y="24.30" font-size="8.0" text-anchor="start" fill="#333" stroke="#333" stroke-width="0.1" textLength="33.5" lengthAdjust="spacingAndGlyphs">VAV-CRE</text>
<text x="455.30" y="44.90" font-size="8.0" text-anchor="start" fill="#333" stroke="#333" stroke-width="0.1" textLength="12.5" lengthAdjust="spacingAndGlyphs">WT</text>
<text x="455.30" y="91.10" font-size="8.0" text-anchor="start" fill="#333" stroke="#333" stroke-width="0.1" textLength="32.2" lengthAdjust="spacingAndGlyphs">VAV-CRE</text>
<rect x="308.60" y="21.50" width="142.60" height="41.70" fill="none" stroke="#d4607a" stroke-width="1.2"/>
<rect x="311.00" y="22.90" width="44.40" height="39.10" fill="#393535"/>
<svg x="311.00" y="22.90" width="44.40" height="39.10" viewBox="311.00 22.90 44.40 39.10" overflow="hidden"><g opacity="0.86">
<ellipse cx="331.90" cy="43.00" rx="17.40" ry="17.60" fill="url(#redBase)" opacity="0.8"/>
<ellipse cx="331.90" cy="43.00" rx="17.40" ry="17.60" fill="url(#redRing)" filter="url(#tA)"/>
<ellipse cx="331.90" cy="43.00" rx="17.40" ry="17.60" fill="url(#redRing)" opacity="0.3"/>
</g></svg>
<rect x="347.90" y="57.80" width="4.50" height="1.60" fill="#ffffff" opacity="0.85"/>
<rect x="357.70" y="22.90" width="45.00" height="39.10" fill="#393535"/>
<svg x="357.70" y="22.90" width="45.00" height="39.10" viewBox="357.70 22.90 45.00 39.10" overflow="hidden"><g opacity="0.86">
<ellipse cx="379.50" cy="43.50" rx="16.80" ry="17.20" fill="url(#greenBase)" opacity="0.8"/>
<ellipse cx="379.50" cy="43.50" rx="16.80" ry="17.20" fill="url(#greenCell)" filter="url(#tB)"/>
<ellipse cx="379.50" cy="43.50" rx="16.80" ry="17.20" fill="url(#greenCell)" opacity="0.2"/>
</g></svg>
<rect x="395.20" y="57.80" width="4.50" height="1.60" fill="#ffffff" opacity="0.85"/>
<rect x="405.80" y="22.90" width="43.40" height="39.10" fill="#393535"/>
<svg x="405.80" y="22.90" width="43.40" height="39.10" viewBox="405.80 22.90 43.40 39.10" overflow="hidden"><g opacity="0.86">
<ellipse cx="425.70" cy="43.50" rx="17.40" ry="17.60" fill="url(#mergeBase)" opacity="0.8"/>
<ellipse cx="425.70" cy="43.50" rx="15.50" ry="15.70" fill="url(#greenCell)" filter="url(#tC)"/>
<ellipse cx="425.70" cy="43.50" rx="17.40" ry="17.60" fill="url(#mergeRim)" filter="url(#tG)" style="mix-blend-mode:screen"/>
<ellipse cx="420.00" cy="29.50" rx="2.60" ry="2.20" fill="#ffa020" opacity="0.85"/>
</g></svg>
<rect x="441.70" y="57.80" width="4.50" height="1.60" fill="#ffffff" opacity="0.85"/>
<rect x="308.60" y="67.70" width="142.60" height="42.50" fill="none" stroke="#7592b4" stroke-width="1.2"/>
<rect x="311.00" y="69.10" width="44.40" height="39.90" fill="#393535"/>
<svg x="311.00" y="69.10" width="44.40" height="39.90" viewBox="311.00 69.10 44.40 39.90" overflow="hidden"><g opacity="0.86">
<ellipse cx="331.90" cy="89.20" rx="17.80" ry="16.40" fill="url(#redBase)" opacity="0.75"/>
<ellipse cx="331.90" cy="89.20" rx="17.80" ry="16.40" fill="url(#redRing)" filter="url(#tD)" opacity="0.8"/>
<path d="M324,75.5 C314,80 313.5,98 323,104 C320,98 318.5,84 327,75.5 Z" fill="#ff2a2a" opacity="0.95" filter="url(#blur1)"/>
</g></svg>
<rect x="347.90" y="104.80" width="4.50" height="1.60" fill="#ffffff" opacity="0.85"/>
<rect x="357.70" y="69.10" width="45.00" height="39.90" fill="#393535"/>
<svg x="357.70" y="69.10" width="45.00" height="39.90" viewBox="357.70 69.10 45.00 39.90" overflow="hidden"><g opacity="0.86">
<ellipse cx="377.00" cy="90.40" rx="15.20" ry="15.60" fill="url(#greenBase)" opacity="0.8" transform="rotate(-25 377 90.4)"/>
<ellipse cx="377.00" cy="90.40" rx="15.20" ry="15.60" fill="url(#greenCell)" filter="url(#tE)" transform="rotate(-25 377 90.4)"/>
<ellipse cx="377.00" cy="90.40" rx="15.20" ry="15.60" fill="url(#greenCell)" opacity="0.25" transform="rotate(-25 377 90.4)"/>
</g></svg>
<rect x="395.20" y="104.80" width="4.50" height="1.60" fill="#ffffff" opacity="0.85"/>
<rect x="405.80" y="69.10" width="43.40" height="39.90" fill="#393535"/>
<svg x="405.80" y="69.10" width="43.40" height="39.90" viewBox="405.80 69.10 43.40 39.90" overflow="hidden"><g opacity="0.86">
<ellipse cx="425.20" cy="89.20" rx="18.20" ry="16.40" fill="url(#mergeBase)" opacity="0.8"/>
<ellipse cx="427.00" cy="89.20" rx="15.50" ry="14.80" fill="url(#greenCell)" filter="url(#tF)"/>
<ellipse cx="425.20" cy="89.20" rx="18.20" ry="16.40" fill="url(#mergeRim)" filter="url(#tH)" style="mix-blend-mode:screen"/>
<path d="M417,75.5 C407,80 406.5,98 416,104 C413,98 411.5,84 420,75.5 Z" fill="#ff5020" opacity="0.95" filter="url(#blur1)"/>
<ellipse cx="414.50" cy="95.00" rx="2.00" ry="3.50" fill="#f0e020" opacity="0.8" filter="url(#blur06)"/>
<ellipse cx="416.50" cy="80.00" rx="1.60" ry="2.00" fill="#e0e020" opacity="0.7" filter="url(#blur06)"/>
</g></svg>
<rect x="441.70" y="104.80" width="4.50" height="1.60" fill="#ffffff" opacity="0.85"/>
<text x="1.80" y="151.20" font-size="11.2" text-anchor="start" fill="#111" font-weight="bold">B</text>
<text x="27.90" y="161.40" font-size="8.7" text-anchor="start" fill="#333" stroke="#333" stroke-width="0.1" textLength="139" lengthAdjust="spacingAndGlyphs">Mouse IL-7R<tspan font-style="italic">&#945;</tspan>/CD127 cytoplasmic chain :</text>
<rect x="133.50" y="172.10" width="52.10" height="12.70" fill="#1f5591"/>
<text x="159.00" y="181.30" font-size="8.3" text-anchor="middle" fill="#fff" textLength="34" lengthAdjust="spacingAndGlyphs">&lt; Box 1 &gt;</text>
<rect x="342.90" y="172.10" width="175.10" height="12.70" fill="#1f5591"/>
<text x="428.50" y="181.30" font-size="8.3" text-anchor="middle" fill="#fff" textLength="35" lengthAdjust="spacingAndGlyphs">&lt; Box 2 &gt;</text>
<rect x="4.80" y="189.00" width="76.00" height="13.40" fill="#3da544"/>
<text x="43.30" y="198.30" font-size="7.9" text-anchor="middle" fill="#fff" textLength="57.7" lengthAdjust="spacingAndGlyphs">Transmembrane</text>
<text x="84.20" y="198.60" font-size="8.5" text-anchor="middle" fill="#333" stroke="#333" stroke-width="0.1">–</text>
<rect x="88.10" y="189.00" width="27.90" height="13.40" fill="#5f2878"/>
<text x="102.05" y="198.60" font-size="9" text-anchor="middle" fill="#fff" textLength="15.36" lengthAdjust="spacingAndGlyphs">KKR</text>
<rect x="116.00" y="189.00" width="6.70" height="13.40" fill="#c8102e"/>
<text x="119.35" y="198.60" font-size="9" text-anchor="middle" fill="#fff" textLength="2.08" lengthAdjust="spacingAndGlyphs">I</text>
<rect x="122.70" y="189.00" width="9.20" height="13.40" fill="#5f2878"/>
<text x="127.30" y="198.60" font-size="9" text-anchor="middle" fill="#fff" textLength="4.98" lengthAdjust="spacingAndGlyphs">K</text>
<rect x="131.90" y="189.00" width="32.10" height="13.40" fill="#c8102e"/>
<text x="147.95" y="198.60" font-size="9" text-anchor="middle" fill="#fff" textLength="26.98" lengthAdjust="spacingAndGlyphs">PVVWP</text>
<text x="167.70" y="198.60" font-size="9" text-anchor="middle" fill="#4a5e50" stroke="#4a5e50" stroke-width="0.1" textLength="5.1" lengthAdjust="spacingAndGlyphs">S</text>
<rect x="171.50" y="189.00" width="14.50" height="13.40" fill="#c8102e"/>
<text x="178.75" y="198.60" font-size="9" text-anchor="middle" fill="#fff" textLength="9.14" lengthAdjust="spacingAndGlyphs">LP</text>
<rect x="186.00" y="189.00" width="12.50" height="13.40" fill="#f0961e"/>
<text x="192.25" y="198.60" font-size="9" text-anchor="middle" fill="#fff" textLength="5.39" lengthAdjust="spacingAndGlyphs">D</text>
<rect x="198.50" y="189.00" width="25.90" height="13.40" fill="#5f2878"/>
<text x="211.45" y="198.60" font-size="9" text-anchor="middle" fill="#fff" textLength="15.36" lengthAdjust="spacingAndGlyphs">HKK</text>
<text x="230.20" y="198.60" font-size="9" text-anchor="middle" fill="#444" stroke="#444" stroke-width="0.1" textLength="4.67" lengthAdjust="spacingAndGlyphs">T</text>
<rect x="233.70" y="189.00" width="11.90" height="13.40" fill="#c8102e"/>
<text x="239.65" y="198.60" font-size="9" text-anchor="middle" fill="#fff" textLength="4.15" lengthAdjust="spacingAndGlyphs">L</text>
<rect x="245.60" y="189.00" width="12.50" height="13.40" fill="#f0961e"/>
<text x="251.85" y="198.60" font-size="9" text-anchor="middle" fill="#fff" textLength="4.98" lengthAdjust="spacingAndGlyphs">E</text>
<text x="262.50" y="198.60" font-size="9" text-anchor="middle" fill="#444" stroke="#444" stroke-width="0.1" textLength="5.95" lengthAdjust="spacingAndGlyphs">Q</text>
<rect x="268.30" y="189.00" width="18.20" height="13.40" fill="#c8102e"/>
<text x="277.40" y="198.60" font-size="9" text-anchor="middle" fill="#fff" textLength="9.55" lengthAdjust="spacingAndGlyphs">LC</text>
<rect x="286.50" y="189.00" width="14.50" height="13.40" fill="#5f2878"/>
<text x="293.75" y="198.60" font-size="9" text-anchor="middle" fill="#fff" textLength="9.97" lengthAdjust="spacingAndGlyphs">KK</text>
<rect x="301.00" y="189.00" width="11.50" height="13.40" fill="#c8102e"/>
<text x="306.75" y="198.60" font-size="9" text-anchor="middle" fill="#fff" textLength="4.98" lengthAdjust="spacingAndGlyphs">P</text>
<rect x="312.50" y="189.00" width="12.50" height="13.40" fill="#5f2878"/>
<text x="318.75" y="198.60" font-size="9" text-anchor="middle" fill="#fff" textLength="4.98" lengthAdjust="spacingAndGlyphs">K</text>
<text x="330.40" y="198.60" font-size="9" text-anchor="middle" fill="#444" stroke="#444" stroke-width="0.1" textLength="4.67" lengthAdjust="spacingAndGlyphs">T</text>
<text x="338.00" y="198.60" font-size="9" text-anchor="middle" fill="#4a5e50" stroke="#4a5e50" stroke-width="0.1" textLength="5.1" lengthAdjust="spacingAndGlyphs">S</text>
<rect x="342.90" y="189.00" width="10.90" height="13.40" fill="#c8102e"/>
<text x="348.35" y="198.60" font-size="9" text-anchor="middle" fill="#fff" textLength="4.15" lengthAdjust="spacingAndGlyphs">L</text>
<text x="361.50" y="198.60" font-size="9" text-anchor="middle" fill="#444" stroke="#444" stroke-width="0.1" textLength="5.52" lengthAdjust="spacingAndGlyphs">N</text>
<rect x="366.90" y="189.00" width="11.10" height="13.40" fill="#c8102e"/>
<text x="372.45" y="198.60" font-size="9" text-anchor="middle" fill="#fff" textLength="4.98" lengthAdjust="spacingAndGlyphs">V</text>
<text x="384.60" y="198.60" font-size="9" text-anchor="middle" fill="#4a5e50" stroke="#4a5e50" stroke-width="0.1" textLength="5.1" lengthAdjust="spacingAndGlyphs">S</text>
<rect x="390.40" y="189.00" width="11.50" height="13.40" fill="#c8102e"/>
<text x="396.15" y="198.60" font-size="9" text-anchor="middle" fill="#fff" textLength="4.56" lengthAdjust="spacingAndGlyphs">F</text>
<text x="407.70" y="198.60" font-size="9" text-anchor="middle" fill="#444" stroke="#444" stroke-width="0.1" textLength="5.52" lengthAdjust="spacingAndGlyphs">N</text>
<rect x="413.00" y="189.00" width="11.60" height="13.40" fill="#c8102e"/>
<text x="418.80" y="198.60" font-size="9" text-anchor="middle" fill="#fff" textLength="4.98" lengthAdjust="spacingAndGlyphs">P</text>
<rect x="424.60" y="189.00" width="11.70" height="13.40" fill="#f0961e"/>
<text x="430.45" y="198.60" font-size="9" text-anchor="middle" fill="#fff" textLength="4.98" lengthAdjust="spacingAndGlyphs">E</text>
<text x="442.10" y="198.60" font-size="9" text-anchor="middle" fill="#4a5e50" stroke="#4a5e50" stroke-width="0.1" textLength="5.1" lengthAdjust="spacingAndGlyphs">S</text>
<rect x="447.30" y="189.00" width="12.10" height="13.40" fill="#c8102e"/>
<text x="453.35" y="198.60" font-size="9" text-anchor="middle" fill="#fff" textLength="8.72" lengthAdjust="spacingAndGlyphs">FL</text>
<rect x="459.40" y="189.00" width="11.60" height="13.40" fill="#f0961e"/>
<text x="465.20" y="198.60" font-size="9" text-anchor="middle" fill="#fff" textLength="5.39" lengthAdjust="spacingAndGlyphs">D</text>
<rect x="471.00" y="189.00" width="11.50" height="13.40" fill="#c8102e"/>
<text x="476.75" y="198.60" font-size="9" text-anchor="middle" fill="#fff" textLength="5.39" lengthAdjust="spacingAndGlyphs">C</text>
<text x="487.30" y="198.60" font-size="9" text-anchor="middle" fill="#444" stroke="#444" stroke-width="0.1" textLength="5.95" lengthAdjust="spacingAndGlyphs">Q</text>
<rect x="494.00" y="189.00" width="12.20" height="13.40" fill="#c8102e"/>
<text x="500.10" y="198.60" font-size="9" text-anchor="middle" fill="#fff" textLength="2.08" lengthAdjust="spacingAndGlyphs">I</text>
<rect x="506.20" y="189.00" width="11.80" height="13.40" fill="#5f2878"/>
<text x="512.10" y="198.60" font-size="9" text-anchor="middle" fill="#fff" textLength="5.39" lengthAdjust="spacingAndGlyphs">H</text>
<text x="520.00" y="213.80" font-size="8.5" text-anchor="end" fill="#333" stroke="#333" stroke-width="0.1">309</text>
<rect x="4.80" y="216.70" width="14.60" height="13.50" fill="#3da544"/>
<text x="12.50" y="225.80" font-size="7.0" text-anchor="middle" fill="#fff" textLength="9.5" lengthAdjust="spacingAndGlyphs">XX</text>
<text x="23.40" y="226.10" font-size="8.1" text-anchor="start" fill="#333" stroke="#333" stroke-width="0.1" textLength="83.5" lengthAdjust="spacingAndGlyphs">Transmembrane region</text>
<rect x="4.80" y="232.70" width="14.60" height="13.50" fill="#c8102e"/>
<text x="12.50" y="241.80" font-size="7.0" text-anchor="middle" fill="#fff" textLength="9.5" lengthAdjust="spacingAndGlyphs">XX</text>
<text x="23.40" y="242.10" font-size="8.1" text-anchor="start" fill="#333" stroke="#333" stroke-width="0.1" textLength="88.8" lengthAdjust="spacingAndGlyphs">Hydrophobic amino acid</text>
<rect x="4.80" y="248.70" width="14.60" height="13.50" fill="#5f2878"/>
<text x="12.50" y="257.80" font-size="7.0" text-anchor="middle" fill="#fff" textLength="9.5" lengthAdjust="spacingAndGlyphs">XX</text>
<text x="23.40" y="258.10" font-size="8.1" text-anchor="start" fill="#333" stroke="#333" stroke-width="0.1" textLength="108.2" lengthAdjust="spacingAndGlyphs">Positively charged amino acid</text>
<rect x="4.80" y="264.70" width="14.60" height="13.50" fill="#f0961e"/>
<text x="12.50" y="273.80" font-size="7.0" text-anchor="middle" fill="#fff" textLength="9.5" lengthAdjust="spacingAndGlyphs">XX</text>
<text x="23.40" y="274.10" font-size="8.1" text-anchor="start" fill="#333" stroke="#333" stroke-width="0.1" textLength="113.0" lengthAdjust="spacingAndGlyphs">Negatively charged amino acid</text>
<text x="1.20" y="303.90" font-size="11.2" text-anchor="start" fill="#111" font-weight="bold">C</text>
<path d="M33.00,418.30 L34.24,416.27 L35.48,414.84 L36.72,413.71 L37.96,411.91 L39.20,410.30 L40.44,408.43 L41.68,406.56 L42.92,405.31 L44.16,403.50 L45.40,400.93 L46.64,399.30 L47.88,397.03 L49.12,395.60 L50.36,393.16 L51.60,390.82 L52.84,389.08 L54.08,386.33 L55.32,384.19 L56.56,382.72 L57.80,380.55 L59.04,377.96 L60.28,375.48 L61.52,373.81 L62.76,371.86 L64.00,369.64 L65.24,367.97 L66.48,365.88 L67.72,363.84 L68.96,362.01 L70.20,360.52 L71.44,358.91 L72.68,357.42 L73.92,355.83 L75.16,354.70 L76.40,353.77 L77.64,352.10 L78.88,351.48 L80.12,350.72 L81.36,350.57 L82.60,349.57 L83.84,349.52 L85.08,350.12 L86.32,350.04 L87.56,349.93 L88.80,350.25 L90.04,350.49 L91.28,351.42 L92.52,351.69 L93.76,352.51 L95.00,353.57 L96.24,354.16 L97.48,354.81 L98.72,355.78 L99.96,357.04 L101.20,358.00 L102.44,359.52 L103.68,360.45 L104.92,361.13 L106.16,362.61 L107.40,364.00 L108.64,364.92 L109.88,366.04 L111.12,367.34 L112.36,368.88 L113.60,370.14 L114.84,371.42 L116.08,372.54 L117.32,374.10 L118.56,375.57 L119.80,376.85 L121.04,378.59 L122.28,379.94 L123.52,380.76 L124.76,381.87 L126.00,383.53 L127.24,385.01 L128.48,386.50 L129.72,387.51 L130.96,388.38 L132.20,389.79 L133.44,391.19 L134.68,392.12 L135.92,393.78 L137.16,394.68 L138.40,395.41 L139.64,396.78 L140.88,397.90 L142.12,399.04 L143.36,399.76 L144.60,400.34 L145.84,402.00 L147.08,402.20 L148.32,402.97 L149.56,403.69 L150.80,404.53 L152.04,405.16 L153.28,406.05 L154.52,406.63 L155.76,407.32 L157.00,408.16" fill="none" stroke="#f5a623" stroke-width="0.9" stroke-linejoin="round"/>
<path d="M33.00,417.96 L34.24,415.93 L35.48,414.50 L36.72,413.37 L37.96,411.57 L39.20,409.96 L40.44,408.09 L41.68,406.22 L42.92,404.97 L44.16,403.16 L45.40,400.59 L46.64,398.96 L47.88,396.69 L49.12,395.26 L50.36,392.82 L51.60,390.48 L52.84,388.74 L54.08,385.99 L55.32,383.86 L56.56,382.39 L57.80,380.22 L59.04,377.63 L60.28,375.16 L61.52,373.50 L62.76,371.56 L64.00,369.36 L65.24,367.71 L66.48,365.66 L67.72,363.66 L68.96,361.88 L70.20,360.46 L71.44,358.94 L72.68,357.54 L73.92,356.06 L75.16,355.05 L76.40,354.26 L77.64,352.73 L78.88,352.24 L80.12,351.61 L81.36,351.58 L82.60,350.68 L83.84,350.71 L85.08,351.35 L86.32,351.29 L87.56,351.16 L88.80,351.44 L90.04,351.59 L91.28,352.43 L92.52,352.58 L93.76,353.27 L95.00,354.19 L96.24,354.65 L97.48,355.16 L98.72,356.01 L99.96,357.16 L101.20,358.02 L102.44,359.46 L103.68,360.32 L104.92,360.95 L106.16,362.39 L107.40,363.75 L108.64,364.64 L109.88,365.74 L111.12,367.03 L112.36,368.56 L113.60,369.81 L114.84,371.08 L116.08,372.20 L117.32,373.76 L118.56,375.23 L119.80,376.51 L121.04,378.25 L122.28,379.60 L123.52,380.42 L124.76,381.53 L126.00,383.19 L127.24,384.67 L128.48,386.16 L129.72,387.17 L130.96,388.04 L132.20,389.45 L133.44,390.85 L134.68,391.78 L135.92,393.44 L137.16,394.34 L138.40,395.07 L139.64,396.44 L140.88,397.56 L142.12,398.70 L143.36,399.42 L144.60,400.00 L145.84,401.66 L147.08,401.86 L148.32,402.63 L149.56,403.35 L150.80,404.19 L152.04,404.82 L153.28,405.71 L154.52,406.29 L155.76,406.98 L157.00,407.82" fill="none" stroke="#6b2c6a" stroke-width="0.95" stroke-linejoin="round"/>
<path d="M33.00,421.15 L34.24,420.62 L35.48,420.79 L36.72,420.18 L37.96,418.94 L39.20,418.37 L40.44,417.74 L41.68,417.30 L42.92,416.30 L44.16,415.49 L45.40,414.67 L46.64,414.12 L47.88,412.97 L49.12,412.02 L50.36,410.73 L51.60,409.43 L52.84,408.35 L54.08,407.51 L55.32,406.37 L56.56,405.25 L57.80,404.12 L59.04,402.76 L60.28,401.00 L61.52,399.67 L62.76,398.12 L64.00,396.17 L65.24,394.90 L66.48,393.26 L67.72,391.89 L68.96,390.40 L70.20,388.46 L71.44,386.91 L72.68,384.88 L73.92,382.75 L75.16,381.28 L76.40,379.95 L77.64,377.65 L78.88,376.02 L80.12,374.38 L81.36,372.58 L82.60,371.07 L83.84,369.46 L85.08,368.27 L86.32,366.28 L87.56,364.86 L88.80,364.16 L90.04,362.39 L91.28,361.21 L92.52,360.29 L93.76,359.20 L95.00,358.30 L96.24,357.10 L97.48,356.71 L98.72,355.81 L99.96,355.68 L101.20,354.84 L102.44,354.54 L103.68,354.72 L104.92,354.57 L106.16,354.33 L107.40,354.63 L108.64,355.05 L109.88,355.58 L111.12,355.90 L112.36,356.09 L113.60,357.10 L114.84,357.15 L116.08,358.40 L117.32,358.68 L118.56,360.05 L119.80,360.47 L121.04,361.68 L122.28,362.91 L123.52,364.01 L124.76,365.07 L126.00,366.33 L127.24,367.80 L128.48,369.16 L129.72,370.22 L130.96,371.20 L132.20,372.80 L133.44,374.60 L134.68,375.35 L135.92,376.79 L137.16,378.00 L138.40,379.94 L139.64,380.82 L140.88,382.70 L142.12,383.51 L143.36,385.09 L144.60,386.37 L145.84,387.05 L147.08,388.86 L148.32,389.65 L149.56,390.48 L150.80,392.02 L152.04,393.06 L153.28,393.47 L154.52,394.75 L155.76,395.37 L157.00,396.73" fill="none" stroke="#2a6ea8" stroke-width="0.95" stroke-linejoin="round"/>
<path d="M33.00,421.73 L34.24,420.92 L35.48,420.47 L36.72,419.66 L37.96,419.00 L39.20,418.77 L40.44,418.10 L41.68,416.67 L42.92,416.35 L44.16,415.54 L45.40,414.05 L46.64,413.57 L47.88,412.31 L49.12,411.60 L50.36,410.43 L51.60,409.73 L52.84,408.20 L54.08,406.83 L55.32,405.88 L56.56,404.43 L57.80,403.17 L59.04,402.30 L60.28,400.33 L61.52,399.03 L62.76,397.78 L64.00,396.49 L65.24,394.25 L66.48,393.00 L67.72,391.19 L68.96,389.43 L70.20,387.92 L71.44,386.10 L72.68,384.86 L73.92,382.86 L75.16,381.48 L76.40,379.42 L77.64,377.83 L78.88,376.84 L80.12,375.21 L81.36,373.58 L82.60,371.44 L83.84,370.39 L85.08,368.81 L86.32,367.71 L87.56,366.23 L88.80,365.09 L90.04,363.96 L91.28,362.69 L92.52,361.70 L93.76,360.53 L95.00,359.91 L96.24,359.00 L97.48,358.45 L98.72,357.84 L99.96,357.71 L101.20,357.85 L102.44,357.11 L103.68,356.97 L104.92,357.06 L106.16,357.46 L107.40,357.54 L108.64,358.24 L109.88,358.09 L111.12,358.74 L112.36,359.49 L113.60,360.26 L114.84,360.27 L116.08,360.89 L117.32,362.41 L118.56,362.68 L119.80,363.91 L121.04,365.08 L122.28,365.98 L123.52,366.65 L124.76,367.66 L126.00,369.47 L127.24,370.17 L128.48,371.83 L129.72,372.50 L130.96,374.05 L132.20,374.86 L133.44,376.04 L134.68,377.69 L135.92,378.55 L137.16,380.38 L138.40,381.83 L139.64,382.65 L140.88,384.34 L142.12,385.42 L143.36,386.44 L144.60,387.44 L145.84,388.95 L147.08,390.15 L148.32,390.54 L149.56,392.03 L150.80,392.51 L152.04,393.52 L153.28,394.86 L154.52,395.67 L155.76,396.45 L157.00,397.14" fill="none" stroke="#4caf50" stroke-width="0.95" stroke-linejoin="round"/>
<path d="M33.00,422.19 L34.24,421.69 L35.48,420.82 L36.72,420.36 L37.96,419.75 L39.20,418.76 L40.44,417.60 L41.68,416.91 L42.92,416.13 L44.16,415.73 L45.40,414.58 L46.64,413.88 L47.88,413.00 L49.12,412.05 L50.36,410.93 L51.60,409.26 L52.84,408.22 L54.08,407.08 L55.32,405.89 L56.56,405.14 L57.80,403.77 L59.04,402.20 L60.28,400.76 L61.52,399.27 L62.76,397.84 L64.00,397.04 L65.24,395.14 L66.48,393.59 L67.72,392.21 L68.96,390.94 L70.20,389.15 L71.44,387.91 L72.68,385.66 L73.92,384.16 L75.16,382.87 L76.40,381.53 L77.64,379.50 L78.88,378.27 L80.12,376.54 L81.36,375.12 L82.60,373.99 L83.84,372.71 L85.08,371.24 L86.32,370.12 L87.56,369.14 L88.80,367.89 L90.04,366.42 L91.28,366.06 L92.52,365.15 L93.76,363.85 L95.00,363.39 L96.24,362.54 L97.48,362.04 L98.72,361.69 L99.96,360.80 L101.20,361.20 L102.44,360.87 L103.68,360.99 L104.92,360.68 L106.16,361.09 L107.40,361.22 L108.64,361.17 L109.88,361.87 L111.12,362.09 L112.36,362.30 L113.60,363.52 L114.84,364.18 L116.08,364.74 L117.32,365.06 L118.56,366.00 L119.80,367.18 L121.04,368.02 L122.28,369.12 L123.52,369.90 L124.76,371.30 L126.00,371.85 L127.24,372.81 L128.48,373.91 L129.72,375.26 L130.96,376.26 L132.20,378.24 L133.44,379.23 L134.68,379.90 L135.92,381.27 L137.16,382.79 L138.40,383.57 L139.64,385.03 L140.88,386.06 L142.12,387.66 L143.36,388.90 L144.60,389.82 L145.84,391.18 L147.08,392.05 L148.32,392.63 L149.56,394.15 L150.80,395.39 L152.04,396.30 L153.28,397.10 L154.52,397.47 L155.76,398.63 L157.00,399.47" fill="none" stroke="#c83030" stroke-width="0.95" stroke-linejoin="round"/>
<line x1="33.10" y1="331.00" x2="33.10" y2="422.20" stroke="#222" stroke-width="1.1"/>
<line x1="33.10" y1="422.20" x2="160.00" y2="422.20" stroke="#222" stroke-width="1.1"/>
<line x1="30.30" y1="422.20" x2="33.10" y2="422.20" stroke="#222" stroke-width="0.9"/>
<text x="28.30" y="425.15" font-size="8.4" text-anchor="end" fill="#333" stroke="#333" stroke-width="0.1" textLength="4.34" lengthAdjust="spacingAndGlyphs">0</text>
<line x1="30.30" y1="399.52" x2="33.10" y2="399.52" stroke="#222" stroke-width="0.9"/>
<text x="28.30" y="402.47" font-size="8.4" text-anchor="end" fill="#333" stroke="#333" stroke-width="0.1" textLength="13.03" lengthAdjust="spacingAndGlyphs">100</text>
<line x1="30.30" y1="376.85" x2="33.10" y2="376.85" stroke="#222" stroke-width="0.9"/>
<text x="28.30" y="379.80" font-size="8.4" text-anchor="end" fill="#333" stroke="#333" stroke-width="0.1" textLength="13.03" lengthAdjust="spacingAndGlyphs">200</text>
<line x1="30.30" y1="354.18" x2="33.10" y2="354.18" stroke="#222" stroke-width="0.9"/>
<text x="28.30" y="357.12" font-size="8.4" text-anchor="end" fill="#333" stroke="#333" stroke-width="0.1" textLength="13.03" lengthAdjust="spacingAndGlyphs">300</text>
<line x1="30.30" y1="331.50" x2="33.10" y2="331.50" stroke="#222" stroke-width="0.9"/>
<text x="28.30" y="334.45" font-size="8.4" text-anchor="end" fill="#333" stroke="#333" stroke-width="0.1" textLength="13.03" lengthAdjust="spacingAndGlyphs">400</text>
<line x1="33.00" y1="422.20" x2="33.00" y2="424.80" stroke="#222" stroke-width="0.8"/>
<line x1="39.20" y1="422.20" x2="39.20" y2="423.60" stroke="#222" stroke-width="0.6"/>
<line x1="45.40" y1="422.20" x2="45.40" y2="423.60" stroke="#222" stroke-width="0.6"/>
<line x1="51.60" y1="422.20" x2="51.60" y2="423.60" stroke="#222" stroke-width="0.6"/>
<line x1="57.80" y1="422.20" x2="57.80" y2="423.60" stroke="#222" stroke-width="0.6"/>
<line x1="64.00" y1="422.20" x2="64.00" y2="423.60" stroke="#222" stroke-width="0.6"/>
<line x1="70.20" y1="422.20" x2="70.20" y2="423.60" stroke="#222" stroke-width="0.6"/>
<line x1="76.40" y1="422.20" x2="76.40" y2="423.60" stroke="#222" stroke-width="0.6"/>
<line x1="82.60" y1="422.20" x2="82.60" y2="423.60" stroke="#222" stroke-width="0.6"/>
<line x1="88.80" y1="422.20" x2="88.80" y2="423.60" stroke="#222" stroke-width="0.6"/>
<line x1="95.00" y1="422.20" x2="95.00" y2="424.80" stroke="#222" stroke-width="0.8"/>
<line x1="101.20" y1="422.20" x2="101.20" y2="423.60" stroke="#222" stroke-width="0.6"/>
<line x1="107.40" y1="422.20" x2="107.40" y2="423.60" stroke="#222" stroke-width="0.6"/>
<line x1="113.60" y1="422.20" x2="113.60" y2="423.60" stroke="#222" stroke-width="0.6"/>
<line x1="119.80" y1="422.20" x2="119.80" y2="423.60" stroke="#222" stroke-width="0.6"/>
<line x1="126.00" y1="422.20" x2="126.00" y2="423.60" stroke="#222" stroke-width="0.6"/>
<line x1="132.20" y1="422.20" x2="132.20" y2="423.60" stroke="#222" stroke-width="0.6"/>
<line x1="138.40" y1="422.20" x2="138.40" y2="423.60" stroke="#222" stroke-width="0.6"/>
<line x1="144.60" y1="422.20" x2="144.60" y2="423.60" stroke="#222" stroke-width="0.6"/>
<line x1="150.80" y1="422.20" x2="150.80" y2="423.60" stroke="#222" stroke-width="0.6"/>
<line x1="157.00" y1="422.20" x2="157.00" y2="424.80" stroke="#222" stroke-width="0.8"/>
<text x="33.50" y="435.60" font-size="7.7" text-anchor="middle" fill="#333" stroke="#333" stroke-width="0.1">300</text>
<text x="95.50" y="435.60" font-size="7.7" text-anchor="middle" fill="#333" stroke="#333" stroke-width="0.1">350</text>
<text x="157.50" y="435.60" font-size="7.7" text-anchor="middle" fill="#333" stroke="#333" stroke-width="0.1">400</text>
<text x="95.60" y="448.10" font-size="9.2" text-anchor="middle" fill="#333" stroke="#333" stroke-width="0.1" textLength="59.3" lengthAdjust="spacingAndGlyphs">Wavelenght (nm)</text>
<text x="8.60" y="376.50" font-size="8.5" text-anchor="middle" fill="#333" stroke="#333" stroke-width="0.1" textLength="65" lengthAdjust="spacingAndGlyphs" transform="rotate(-90 8.60 376.50)">Fluorescence (A.U.)</text>
<text x="95.80" y="317.10" font-size="8.2" text-anchor="middle" fill="#333" stroke="#333" stroke-width="0.1" textLength="103" lengthAdjust="spacingAndGlyphs">Peptide 265-309 with POPG</text>
<text x="96.30" y="326.80" font-size="8.2" text-anchor="middle" fill="#333" stroke="#333" stroke-width="0.1" textLength="63.9" lengthAdjust="spacingAndGlyphs">or POPC bicelles</text>
<line x1="155.70" y1="336.60" x2="167.70" y2="336.60" stroke="#c83030" stroke-width="1.0"/>
<text x="170.50" y="339.60" font-size="8.2" text-anchor="start" fill="#333" stroke="#333" stroke-width="0.1">Peptide 265-309</text>
<line x1="155.70" y1="348.15" x2="167.70" y2="348.15" stroke="#2a6ea8" stroke-width="1.0"/>
<text x="170.50" y="351.15" font-size="8.2" text-anchor="start" fill="#333" stroke="#333" stroke-width="0.1">POPC 100 &#956;m</text>
<line x1="155.70" y1="359.70" x2="167.70" y2="359.70" stroke="#4caf50" stroke-width="1.0"/>
<text x="170.50" y="362.70" font-size="8.2" text-anchor="start" fill="#333" stroke="#333" stroke-width="0.1">POPC 200 &#956;m</text>
<line x1="155.70" y1="371.25" x2="167.70" y2="371.25" stroke="#6b2c6a" stroke-width="1.0"/>
<text x="170.50" y="374.25" font-size="8.2" text-anchor="start" fill="#333" stroke="#333" stroke-width="0.1">POPG 100 &#956;m</text>
<line x1="155.70" y1="382.80" x2="167.70" y2="382.80" stroke="#f5a623" stroke-width="1.0"/>
<text x="170.50" y="385.80" font-size="8.2" text-anchor="start" fill="#333" stroke="#333" stroke-width="0.1">POPG 200 &#956;m</text>
<path d="M283.80,413.34 L285.14,412.33 L286.48,410.97 L287.82,410.49 L289.16,409.36 L290.50,408.13 L291.83,407.37 L293.17,405.71 L294.51,404.22 L295.85,402.61 L297.19,401.91 L298.53,400.11 L299.87,398.72 L301.21,396.20 L302.55,394.58 L303.88,393.52 L305.22,390.57 L306.56,388.68 L307.90,387.08 L309.24,385.12 L310.58,383.62 L311.92,381.73 L313.26,379.08 L314.60,377.54 L315.94,375.31 L317.27,373.18 L318.61,371.37 L319.95,368.85 L321.29,366.89 L322.63,364.49 L323.97,362.97 L325.31,361.01 L326.65,359.43 L327.99,357.58 L329.33,356.25 L330.67,355.00 L332.00,352.82 L333.34,351.60 L334.68,350.67 L336.02,349.85 L337.36,349.47 L338.70,348.88 L340.04,348.27 L341.38,348.13 L342.72,347.10 L344.06,347.44 L345.39,346.99 L346.73,347.67 L348.07,347.28 L349.41,347.77 L350.75,349.21 L352.09,349.53 L353.43,349.39 L354.77,350.65 L356.11,350.91 L357.44,352.51 L358.78,353.90 L360.12,354.35 L361.46,355.34 L362.80,357.16 L364.14,358.66 L365.48,359.73 L366.82,360.41 L368.16,362.09 L369.50,364.31 L370.83,365.68 L372.17,367.39 L373.51,369.01 L374.85,369.75 L376.19,372.05 L377.53,373.21 L378.87,374.94 L380.21,376.82 L381.55,377.78 L382.89,380.03 L384.23,380.98 L385.56,383.10 L386.90,384.24 L388.24,385.93 L389.58,387.28 L390.92,387.86 L392.26,389.38 L393.60,391.24 L394.94,391.81 L396.28,393.77 L397.62,394.70 L398.95,395.25 L400.29,396.53 L401.63,398.12 L402.97,398.02 L404.31,399.77 L405.65,400.52 L406.99,400.68 L408.33,401.89 L409.67,402.56 L411.00,403.40 L412.34,403.91 L413.68,403.82 L415.02,404.63 L416.36,404.60 L417.70,405.18" fill="none" stroke="#7a6a3a" stroke-width="0.9" stroke-linejoin="round"/>
<path d="M283.80,413.31 L285.14,412.12 L286.48,411.07 L287.82,410.57 L289.16,409.55 L290.50,407.90 L291.83,406.71 L293.17,404.72 L294.51,403.42 L295.85,402.02 L297.19,400.50 L298.53,398.74 L299.87,397.64 L301.21,395.55 L302.55,394.06 L303.88,391.35 L305.22,390.41 L306.56,387.59 L307.90,386.46 L309.24,383.75 L310.58,382.11 L311.92,379.98 L313.26,377.42 L314.60,376.31 L315.94,374.21 L317.27,371.20 L318.61,369.67 L319.95,368.18 L321.29,365.23 L322.63,363.42 L323.97,362.58 L325.31,360.50 L326.65,359.19 L327.99,357.44 L329.33,355.65 L330.67,354.84 L332.00,353.01 L333.34,352.66 L334.68,351.57 L336.02,350.01 L337.36,349.81 L338.70,349.26 L340.04,348.67 L341.38,348.58 L342.72,348.61 L344.06,349.06 L345.39,348.41 L346.73,348.37 L348.07,348.69 L349.41,349.48 L350.75,350.34 L352.09,350.94 L353.43,351.26 L354.77,352.05 L356.11,353.54 L357.44,354.33 L358.78,355.19 L360.12,356.09 L361.46,356.88 L362.80,358.43 L364.14,360.21 L365.48,360.60 L366.82,362.39 L368.16,363.66 L369.50,365.42 L370.83,366.63 L372.17,368.14 L373.51,369.18 L374.85,371.45 L376.19,372.44 L377.53,374.37 L378.87,375.29 L380.21,377.55 L381.55,378.76 L382.89,380.16 L384.23,381.28 L385.56,383.39 L386.90,384.33 L388.24,385.99 L389.58,387.25 L390.92,388.34 L392.26,389.06 L393.60,390.83 L394.94,391.47 L396.28,393.51 L397.62,393.74 L398.95,395.43 L400.29,396.62 L401.63,396.93 L402.97,397.63 L404.31,399.51 L405.65,400.00 L406.99,400.17 L408.33,401.35 L409.67,402.10 L411.00,402.95 L412.34,403.45 L413.68,403.27 L415.02,403.29 L416.36,403.67 L417.70,404.58" fill="none" stroke="#f5a623" stroke-width="0.9" stroke-linejoin="round"/>
<path d="M283.80,414.02 L285.14,412.46 L286.48,411.33 L287.82,409.95 L289.16,409.45 L290.50,408.09 L291.83,406.81 L293.17,405.28 L294.51,403.19 L295.85,402.32 L297.19,400.23 L298.53,398.91 L299.87,397.07 L301.21,395.11 L302.55,392.79 L303.88,391.14 L305.22,389.87 L306.56,387.57 L307.90,385.69 L309.24,382.79 L310.58,380.77 L311.92,378.67 L313.26,376.52 L314.60,374.49 L315.94,372.13 L317.27,370.19 L318.61,368.71 L319.95,365.96 L321.29,364.34 L322.63,362.05 L323.97,360.33 L325.31,358.61 L326.65,356.89 L327.99,355.09 L329.33,353.59 L330.67,352.28 L332.00,350.05 L333.34,348.75 L334.68,347.34 L336.02,346.60 L337.36,345.82 L338.70,344.79 L340.04,344.82 L341.38,343.68 L342.72,343.57 L344.06,343.65 L345.39,343.55 L346.73,343.23 L348.07,343.69 L349.41,343.71 L350.75,343.90 L352.09,344.59 L353.43,345.44 L354.77,345.67 L356.11,346.69 L357.44,347.51 L358.78,348.46 L360.12,349.25 L361.46,350.65 L362.80,351.12 L364.14,351.98 L365.48,353.88 L366.82,354.83 L368.16,355.95 L369.50,358.39 L370.83,359.74 L372.17,360.47 L373.51,361.96 L374.85,363.74 L376.19,365.86 L377.53,367.15 L378.87,368.22 L380.21,369.79 L381.55,371.47 L382.89,373.74 L384.23,374.57 L385.56,376.67 L386.90,377.81 L388.24,379.98 L389.58,380.50 L390.92,382.37 L392.26,383.64 L393.60,385.59 L394.94,386.45 L396.28,387.78 L397.62,389.00 L398.95,390.45 L400.29,391.16 L401.63,392.68 L402.97,393.76 L404.31,394.88 L405.65,395.20 L406.99,396.71 L408.33,397.39 L409.67,398.32 L411.00,398.35 L412.34,399.08 L413.68,399.68 L415.02,400.78 L416.36,400.80 L417.70,401.32" fill="none" stroke="#9b9bcf" stroke-width="0.9" stroke-linejoin="round"/>
<path d="M283.80,417.38 L285.14,416.15 L286.48,415.03 L287.82,414.81 L289.16,413.25 L290.50,412.26 L291.83,411.21 L293.17,410.69 L294.51,409.61 L295.85,407.97 L297.19,406.29 L298.53,405.54 L299.87,403.91 L301.21,402.73 L302.55,400.69 L303.88,399.11 L305.22,398.23 L306.56,396.01 L307.90,395.51 L309.24,393.05 L310.58,391.35 L311.92,390.52 L313.26,388.22 L314.60,386.70 L315.94,384.54 L317.27,383.68 L318.61,381.59 L319.95,379.49 L321.29,378.06 L322.63,376.75 L323.97,375.33 L325.31,372.69 L326.65,371.60 L327.99,369.40 L329.33,368.82 L330.67,366.55 L332.00,365.08 L333.34,363.56 L334.68,363.25 L336.02,361.56 L337.36,360.72 L338.70,358.79 L340.04,358.20 L341.38,356.55 L342.72,356.35 L344.06,355.11 L345.39,354.32 L346.73,354.46 L348.07,353.62 L349.41,352.79 L350.75,353.01 L352.09,353.04 L353.43,353.09 L354.77,352.54 L356.11,353.36 L357.44,353.11 L358.78,353.47 L360.12,353.87 L361.46,354.84 L362.80,354.80 L364.14,355.15 L365.48,356.55 L366.82,357.34 L368.16,357.54 L369.50,358.85 L370.83,360.20 L372.17,361.56 L373.51,361.82 L374.85,363.44 L376.19,364.52 L377.53,365.99 L378.87,366.86 L380.21,368.07 L381.55,369.89 L382.89,371.52 L384.23,371.86 L385.56,373.34 L386.90,375.76 L388.24,376.53 L389.58,377.79 L390.92,379.51 L392.26,380.52 L393.60,381.62 L394.94,383.40 L396.28,384.95 L397.62,386.48 L398.95,387.68 L400.29,389.04 L401.63,390.29 L402.97,391.34 L404.31,391.75 L405.65,393.18 L406.99,393.92 L408.33,394.78 L409.67,395.86 L411.00,397.64 L412.34,397.49 L413.68,399.25 L415.02,399.24 L416.36,399.87 L417.70,400.74" fill="none" stroke="#5c2a6e" stroke-width="0.9" stroke-linejoin="round"/>
<path d="M283.80,418.48 L285.14,417.61 L286.48,416.91 L287.82,416.06 L289.16,415.24 L290.50,414.06 L291.83,413.57 L293.17,412.14 L294.51,411.81 L295.85,410.38 L297.19,409.20 L298.53,408.23 L299.87,406.30 L301.21,405.51 L302.55,403.62 L303.88,402.04 L305.22,401.40 L306.56,399.19 L307.90,397.76 L309.24,396.36 L310.58,395.48 L311.92,393.35 L313.26,391.48 L314.60,390.16 L315.94,388.52 L317.27,386.67 L318.61,384.97 L319.95,382.60 L321.29,381.33 L322.63,379.47 L323.97,377.46 L325.31,375.36 L326.65,374.38 L327.99,372.97 L329.33,370.24 L330.67,368.78 L332.00,367.25 L333.34,366.03 L334.68,364.91 L336.02,363.61 L337.36,362.12 L338.70,360.70 L340.04,360.00 L341.38,358.22 L342.72,357.23 L344.06,357.18 L345.39,355.48 L346.73,355.24 L348.07,354.22 L349.41,354.31 L350.75,353.64 L352.09,353.85 L353.43,353.61 L354.77,353.78 L356.11,354.44 L357.44,354.49 L358.78,354.65 L360.12,354.78 L361.46,355.23 L362.80,355.51 L364.14,355.91 L365.48,356.82 L366.82,357.58 L368.16,358.09 L369.50,358.38 L370.83,359.42 L372.17,360.47 L373.51,361.23 L374.85,362.90 L376.19,364.08 L377.53,365.16 L378.87,366.23 L380.21,367.50 L381.55,367.96 L382.89,368.81 L384.23,370.94 L385.56,371.51 L386.90,372.45 L388.24,373.89 L389.58,375.84 L390.92,376.53 L392.26,378.20 L393.60,379.53 L394.94,380.94 L396.28,381.56 L397.62,382.30 L398.95,384.41 L400.29,385.51 L401.63,386.35 L402.97,387.85 L404.31,388.43 L405.65,389.16 L406.99,390.47 L408.33,391.92 L409.67,392.85 L411.00,393.55 L412.34,393.86 L413.68,394.37 L415.02,395.62 L416.36,396.80 L417.70,397.35" fill="none" stroke="#2a7070" stroke-width="0.9" stroke-linejoin="round"/>
<path d="M283.80,418.23 L285.14,416.97 L286.48,416.60 L287.82,415.96 L289.16,414.79 L290.50,413.91 L291.83,413.00 L293.17,412.04 L294.51,411.24 L295.85,410.18 L297.19,408.55 L298.53,407.80 L299.87,406.17 L301.21,404.77 L302.55,403.35 L303.88,401.89 L305.22,401.27 L306.56,399.80 L307.90,397.72 L309.24,396.34 L310.58,395.18 L311.92,393.00 L313.26,391.11 L314.60,389.46 L315.94,388.45 L317.27,386.62 L318.61,385.20 L319.95,382.33 L321.29,381.43 L322.63,379.08 L323.97,377.54 L325.31,375.74 L326.65,374.09 L327.99,372.05 L329.33,370.65 L330.67,369.37 L332.00,368.01 L333.34,366.08 L334.68,364.11 L336.02,363.61 L337.36,361.68 L338.70,360.50 L340.04,359.89 L341.38,358.78 L342.72,357.27 L344.06,356.70 L345.39,355.98 L346.73,355.25 L348.07,355.15 L349.41,354.05 L350.75,353.88 L352.09,353.76 L353.43,353.93 L354.77,353.42 L356.11,353.52 L357.44,354.03 L358.78,354.81 L360.12,355.08 L361.46,355.49 L362.80,356.05 L364.14,355.94 L365.48,356.68 L366.82,357.74 L368.16,357.67 L369.50,358.79 L370.83,359.46 L372.17,360.34 L373.51,361.45 L374.85,362.63 L376.19,363.15 L377.53,365.21 L378.87,365.69 L380.21,366.62 L381.55,368.26 L382.89,369.07 L384.23,371.02 L385.56,371.99 L386.90,373.40 L388.24,374.51 L389.58,375.43 L390.92,377.33 L392.26,378.36 L393.60,379.03 L394.94,380.89 L396.28,382.32 L397.62,382.54 L398.95,384.25 L400.29,386.02 L401.63,386.53 L402.97,388.14 L404.31,389.21 L405.65,389.60 L406.99,390.73 L408.33,391.97 L409.67,392.82 L411.00,393.69 L412.34,394.67 L413.68,395.92 L415.02,395.94 L416.36,396.69 L417.70,397.80" fill="none" stroke="#6cbf6c" stroke-width="0.9" stroke-linejoin="round"/>
<path d="M283.80,414.65 L285.14,412.69 L286.48,411.42 L287.82,409.71 L289.16,409.03 L290.50,407.54 L291.83,405.43 L293.17,403.90 L294.51,402.62 L295.85,400.44 L297.19,398.97 L298.53,396.68 L299.87,395.52 L301.21,393.44 L302.55,390.66 L303.88,389.23 L305.22,387.24 L306.56,384.50 L307.90,382.54 L309.24,380.91 L310.58,378.25 L311.92,375.92 L313.26,374.28 L314.60,371.52 L315.94,369.93 L317.27,367.52 L318.61,365.67 L319.95,363.43 L321.29,360.49 L322.63,359.16 L323.97,356.56 L325.31,355.33 L326.65,353.37 L327.99,351.39 L329.33,350.02 L330.67,349.21 L332.00,347.31 L333.34,346.03 L334.68,345.44 L336.02,344.58 L337.36,342.86 L338.70,342.59 L340.04,342.42 L341.38,341.74 L342.72,341.78 L344.06,341.03 L345.39,341.42 L346.73,342.02 L348.07,341.44 L349.41,342.60 L350.75,342.80 L352.09,343.60 L353.43,343.38 L354.77,344.78 L356.11,345.08 L357.44,346.41 L358.78,346.89 L360.12,347.65 L361.46,348.88 L362.80,350.10 L364.14,351.25 L365.48,352.54 L366.82,353.65 L368.16,355.56 L369.50,356.50 L370.83,358.18 L372.17,358.90 L373.51,360.28 L374.85,362.76 L376.19,364.18 L377.53,365.04 L378.87,366.71 L380.21,368.86 L381.55,369.58 L382.89,370.81 L384.23,372.89 L385.56,374.45 L386.90,375.64 L388.24,376.64 L389.58,378.80 L390.92,380.12 L392.26,381.57 L393.60,382.35 L394.94,383.78 L396.28,385.22 L397.62,386.22 L398.95,387.73 L400.29,388.46 L401.63,388.70 L402.97,390.10 L404.31,391.35 L405.65,391.44 L406.99,392.89 L408.33,393.74 L409.67,394.66 L411.00,395.15 L412.34,395.66 L413.68,396.13 L415.02,395.85 L416.36,396.95 L417.70,397.31" fill="none" stroke="#4ab0e0" stroke-width="0.9" stroke-linejoin="round"/>
<path d="M283.80,412.98 L285.14,412.86 L286.48,410.77 L287.82,410.11 L289.16,407.78 L290.50,407.44 L291.83,404.95 L293.17,403.61 L294.51,401.78 L295.85,399.93 L297.19,399.05 L298.53,397.13 L299.87,394.85 L301.21,393.43 L302.55,391.49 L303.88,389.52 L305.22,386.75 L306.56,384.65 L307.90,382.63 L309.24,381.15 L310.58,378.19 L311.92,376.50 L313.26,374.65 L314.60,372.23 L315.94,370.11 L317.27,368.37 L318.61,365.71 L319.95,363.88 L321.29,361.61 L322.63,359.24 L323.97,357.66 L325.31,356.11 L326.65,353.84 L327.99,352.03 L329.33,351.05 L330.67,349.08 L332.00,348.80 L333.34,347.45 L334.68,346.32 L336.02,344.49 L337.36,343.96 L338.70,343.25 L340.04,343.22 L341.38,342.60 L342.72,341.92 L344.06,342.75 L345.39,342.78 L346.73,343.01 L348.07,342.79 L349.41,342.71 L350.75,343.49 L352.09,344.22 L353.43,344.75 L354.77,345.85 L356.11,345.79 L357.44,347.38 L358.78,348.50 L360.12,349.48 L361.46,350.03 L362.80,351.81 L364.14,352.41 L365.48,354.38 L366.82,355.63 L368.16,357.47 L369.50,357.98 L370.83,359.60 L372.17,361.50 L373.51,363.46 L374.85,364.59 L376.19,366.31 L377.53,367.36 L378.87,368.85 L380.21,370.65 L381.55,372.75 L382.89,374.60 L384.23,375.17 L385.56,376.63 L386.90,379.03 L388.24,380.11 L389.58,381.56 L390.92,382.39 L392.26,384.81 L393.60,386.10 L394.94,386.47 L396.28,388.00 L397.62,389.28 L398.95,390.03 L400.29,391.30 L401.63,392.19 L402.97,393.64 L404.31,394.72 L405.65,395.64 L406.99,396.04 L408.33,396.40 L409.67,397.37 L411.00,398.00 L412.34,398.24 L413.68,398.63 L415.02,399.19 L416.36,399.89 L417.70,399.63" fill="none" stroke="#2f5f8a" stroke-width="0.9" stroke-linejoin="round"/>
<path d="M283.80,420.87 L285.14,420.21 L286.48,419.96 L287.82,419.37 L289.16,418.88 L290.50,417.52 L291.83,417.62 L293.17,417.03 L294.51,416.11 L295.85,415.27 L297.19,414.31 L298.53,413.44 L299.87,412.64 L301.21,411.35 L302.55,410.28 L303.88,408.84 L305.22,408.06 L306.56,406.96 L307.90,405.50 L309.24,403.75 L310.58,402.52 L311.92,400.65 L313.26,399.06 L314.60,397.93 L315.94,396.68 L317.27,394.30 L318.61,392.56 L319.95,391.23 L321.29,389.15 L322.63,387.76 L323.97,385.22 L325.31,383.45 L326.65,381.63 L327.99,379.56 L329.33,378.50 L330.67,376.25 L332.00,374.16 L333.34,372.22 L334.68,370.85 L336.02,369.32 L337.36,366.99 L338.70,365.85 L340.04,363.48 L341.38,362.66 L342.72,360.59 L344.06,359.07 L345.39,358.08 L346.73,356.35 L348.07,355.09 L349.41,354.11 L350.75,352.48 L352.09,351.60 L353.43,350.76 L354.77,350.81 L356.11,350.50 L357.44,349.65 L358.78,349.63 L360.12,348.76 L361.46,349.20 L362.80,349.40 L364.14,349.37 L365.48,349.46 L366.82,349.40 L368.16,350.13 L369.50,350.81 L370.83,350.96 L372.17,352.35 L373.51,352.91 L374.85,353.18 L376.19,354.01 L377.53,355.72 L378.87,356.79 L380.21,357.37 L381.55,358.35 L382.89,360.28 L384.23,361.04 L385.56,362.51 L386.90,364.05 L388.24,365.31 L389.58,366.56 L390.92,367.75 L392.26,369.57 L393.60,370.42 L394.94,371.55 L396.28,373.21 L397.62,375.34 L398.95,376.10 L400.29,377.52 L401.63,379.63 L402.97,380.57 L404.31,381.60 L405.65,382.58 L406.99,383.88 L408.33,385.54 L409.67,386.72 L411.00,387.47 L412.34,389.45 L413.68,390.18 L415.02,391.72 L416.36,391.89 L417.70,392.95" fill="none" stroke="#c8283c" stroke-width="1.0" stroke-linejoin="round"/>
<line x1="284.20" y1="330.80" x2="284.20" y2="422.90" stroke="#222" stroke-width="1.1"/>
<line x1="284.20" y1="422.90" x2="420.70" y2="422.90" stroke="#222" stroke-width="1.1"/>
<line x1="281.40" y1="422.90" x2="284.20" y2="422.90" stroke="#222" stroke-width="0.9"/>
<text x="279.40" y="425.85" font-size="8.4" text-anchor="end" fill="#333" stroke="#333" stroke-width="0.1" textLength="4.34" lengthAdjust="spacingAndGlyphs">0</text>
<line x1="281.40" y1="400.00" x2="284.20" y2="400.00" stroke="#222" stroke-width="0.9"/>
<text x="279.40" y="402.95" font-size="8.4" text-anchor="end" fill="#333" stroke="#333" stroke-width="0.1" textLength="13.03" lengthAdjust="spacingAndGlyphs">100</text>
<line x1="281.40" y1="377.10" x2="284.20" y2="377.10" stroke="#222" stroke-width="0.9"/>
<text x="279.40" y="380.05" font-size="8.4" text-anchor="end" fill="#333" stroke="#333" stroke-width="0.1" textLength="13.03" lengthAdjust="spacingAndGlyphs">200</text>
<line x1="281.40" y1="354.20" x2="284.20" y2="354.20" stroke="#222" stroke-width="0.9"/>
<text x="279.40" y="357.15" font-size="8.4" text-anchor="end" fill="#333" stroke="#333" stroke-width="0.1" textLength="13.03" lengthAdjust="spacingAndGlyphs">300</text>
<line x1="281.40" y1="331.30" x2="284.20" y2="331.30" stroke="#222" stroke-width="0.9"/>
<text x="279.40" y="334.25" font-size="8.4" text-anchor="end" fill="#333" stroke="#333" stroke-width="0.1" textLength="13.03" lengthAdjust="spacingAndGlyphs">400</text>
<line x1="283.80" y1="422.90" x2="283.80" y2="425.50" stroke="#222" stroke-width="0.8"/>
<line x1="290.50" y1="422.90" x2="290.50" y2="424.30" stroke="#222" stroke-width="0.6"/>
<line x1="297.19" y1="422.90" x2="297.19" y2="424.30" stroke="#222" stroke-width="0.6"/>
<line x1="303.88" y1="422.90" x2="303.88" y2="424.30" stroke="#222" stroke-width="0.6"/>
<line x1="310.58" y1="422.90" x2="310.58" y2="424.30" stroke="#222" stroke-width="0.6"/>
<line x1="317.27" y1="422.90" x2="317.27" y2="424.30" stroke="#222" stroke-width="0.6"/>
<line x1="323.97" y1="422.90" x2="323.97" y2="424.30" stroke="#222" stroke-width="0.6"/>
<line x1="330.67" y1="422.90" x2="330.67" y2="424.30" stroke="#222" stroke-width="0.6"/>
<line x1="337.36" y1="422.90" x2="337.36" y2="424.30" stroke="#222" stroke-width="0.6"/>
<line x1="344.06" y1="422.90" x2="344.06" y2="424.30" stroke="#222" stroke-width="0.6"/>
<line x1="350.75" y1="422.90" x2="350.75" y2="425.50" stroke="#222" stroke-width="0.8"/>
<line x1="357.44" y1="422.90" x2="357.44" y2="424.30" stroke="#222" stroke-width="0.6"/>
<line x1="364.14" y1="422.90" x2="364.14" y2="424.30" stroke="#222" stroke-width="0.6"/>
<line x1="370.83" y1="422.90" x2="370.83" y2="424.30" stroke="#222" stroke-width="0.6"/>
<line x1="377.53" y1="422.90" x2="377.53" y2="424.30" stroke="#222" stroke-width="0.6"/>
<line x1="384.23" y1="422.90" x2="384.23" y2="424.30" stroke="#222" stroke-width="0.6"/>
<line x1="390.92" y1="422.90" x2="390.92" y2="424.30" stroke="#222" stroke-width="0.6"/>
<line x1="397.62" y1="422.90" x2="397.62" y2="424.30" stroke="#222" stroke-width="0.6"/>
<line x1="404.31" y1="422.90" x2="404.31" y2="424.30" stroke="#222" stroke-width="0.6"/>
<line x1="411.00" y1="422.90" x2="411.00" y2="424.30" stroke="#222" stroke-width="0.6"/>
<line x1="417.70" y1="422.90" x2="417.70" y2="425.50" stroke="#222" stroke-width="0.8"/>
<text x="284.30" y="436.30" font-size="7.7" text-anchor="middle" fill="#333" stroke="#333" stroke-width="0.1">300</text>
<text x="351.25" y="436.30" font-size="7.7" text-anchor="middle" fill="#333" stroke="#333" stroke-width="0.1">350</text>
<text x="418.20" y="436.30" font-size="7.7" text-anchor="middle" fill="#333" stroke="#333" stroke-width="0.1">400</text>
<text x="351.35" y="448.80" font-size="9.2" text-anchor="middle" fill="#333" stroke="#333" stroke-width="0.1" textLength="59.3" lengthAdjust="spacingAndGlyphs">Wavelenght (nm)</text>
<text x="259.40" y="376.50" font-size="8.5" text-anchor="middle" fill="#333" stroke="#333" stroke-width="0.1" textLength="65" lengthAdjust="spacingAndGlyphs" transform="rotate(-90 259.40 376.50)">Fluorescence (A.U.)</text>
<text x="350.80" y="317.10" font-size="8.2" text-anchor="middle" fill="#333" stroke="#333" stroke-width="0.1" textLength="120" lengthAdjust="spacingAndGlyphs">Peptide 265-309 with 10% PtdIns</text>
<text x="351.30" y="326.80" font-size="8.2" text-anchor="middle" fill="#333" stroke="#333" stroke-width="0.1" textLength="77.3" lengthAdjust="spacingAndGlyphs">(4,5)P2/POPC bicelles</text>
<line x1="428.10" y1="320.00" x2="440.10" y2="320.00" stroke="#c8283c" stroke-width="1.0"/>
<text x="442.90" y="323.00" font-size="8.2" text-anchor="start" fill="#333" stroke="#333" stroke-width="0.1">Peptide 265-309</text>
<line x1="428.10" y1="331.78" x2="440.10" y2="331.78" stroke="#2f5f8a" stroke-width="1.0"/>
<text x="442.90" y="334.78" font-size="8.2" text-anchor="start" fill="#333" stroke="#333" stroke-width="0.1">5 &#956;m</text>
<line x1="428.10" y1="343.56" x2="440.10" y2="343.56" stroke="#6cbf6c" stroke-width="1.0"/>
<text x="442.90" y="346.56" font-size="8.2" text-anchor="start" fill="#333" stroke="#333" stroke-width="0.1">10 &#956;m</text>
<line x1="428.10" y1="355.34" x2="440.10" y2="355.34" stroke="#5c2a6e" stroke-width="1.0"/>
<text x="442.90" y="358.34" font-size="8.2" text-anchor="start" fill="#333" stroke="#333" stroke-width="0.1">20 &#956;m</text>
<line x1="428.10" y1="367.12" x2="440.10" y2="367.12" stroke="#f5a623" stroke-width="1.0"/>
<text x="442.90" y="370.12" font-size="8.2" text-anchor="start" fill="#333" stroke="#333" stroke-width="0.1">50 &#956;m</text>
<line x1="428.10" y1="378.90" x2="440.10" y2="378.90" stroke="#2a7070" stroke-width="1.0"/>
<text x="442.90" y="381.90" font-size="8.2" text-anchor="start" fill="#333" stroke="#333" stroke-width="0.1">75 &#956;m</text>
<line x1="428.10" y1="390.68" x2="440.10" y2="390.68" stroke="#9b9bcf" stroke-width="1.0"/>
<text x="442.90" y="393.68" font-size="8.2" text-anchor="start" fill="#333" stroke="#333" stroke-width="0.1">100 &#956;m</text>
<line x1="428.10" y1="402.46" x2="440.10" y2="402.46" stroke="#6a6048" stroke-width="1.0"/>
<text x="442.90" y="405.46" font-size="8.2" text-anchor="start" fill="#333" stroke="#333" stroke-width="0.1">125 &#956;m</text>
<line x1="428.10" y1="414.24" x2="440.10" y2="414.24" stroke="#4ab0e0" stroke-width="1.0"/>
<text x="442.90" y="417.24" font-size="8.2" text-anchor="start" fill="#333" stroke="#333" stroke-width="0.1">150 &#956;m</text>
<text x="1.00" y="468.90" font-size="11.2" text-anchor="start" fill="#111" font-weight="bold">D</text>
<rect x="5.4" y="512.0" width="137" height="10" fill="#f2f3f4"/>
<line x1="5.40" y1="512.00" x2="142.50" y2="512.00" stroke="#c6b6a2" stroke-width="1.6"/>
<line x1="5.40" y1="521.90" x2="142.50" y2="521.90" stroke="#c6b6a2" stroke-width="1.6"/>
<text x="8.00" y="501.00" font-size="8.4" text-anchor="start" fill="#444" stroke="#444" stroke-width="0.1" textLength="22.8" lengthAdjust="spacingAndGlyphs">IL-7R&#945;</text>
<path d="M33.4,500.3 L33.4,523" stroke="#3c3c96" stroke-width="0.9" fill="none"/>
<path d="M33.4,500.3 C37,499.6 42,498.6 46.5,498.2" stroke="#3c3c96" stroke-width="0.9" fill="none"/>
<path d="M38,497.5 Q47,495.5 58,493.5" stroke="#35358e" stroke-width="1.69" fill="none" stroke-linecap="round"/>
<path d="M42,490.5 Q52,497 62,505.5" stroke="#35358e" stroke-width="2.08" fill="none" stroke-linecap="round"/>
<path d="M45,489 Q55,494 64.5,500.5" stroke="#35358e" stroke-width="1.82" fill="none" stroke-linecap="round"/>
<path d="M50,488 Q58,491 66,495.5" stroke="#35358e" stroke-width="1.56" fill="none" stroke-linecap="round"/>
<path d="M40,494.5 Q50,501 60,507.5" stroke="#35358e" stroke-width="1.69" fill="none" stroke-linecap="round"/>
<path d="M55.5,487 Q54,492 52,497.5" stroke="#35358e" stroke-width="1.69" fill="none" stroke-linecap="round"/>
<path d="M61,488.5 Q55,496 49,503.5" stroke="#35358e" stroke-width="1.43" fill="none" stroke-linecap="round"/>
<path d="M63.5,490.5 Q60,495 56.5,499.5" stroke="#35358e" stroke-width="1.30" fill="none" stroke-linecap="round"/>
<path d="M37.5,503 Q41,503.5 44.5,505" stroke="#35358e" stroke-width="1.69" fill="none" stroke-linecap="round"/>
<path d="M57,486 Q60,486.5 62.5,488" stroke="#35358e" stroke-width="1.56" fill="none" stroke-linecap="round"/>
<path d="M52,500.5 Q58,499 65,497.5" stroke="#35358e" stroke-width="1.43" fill="none" stroke-linecap="round"/>
<path d="M44,497 Q48,499.5 53,503" stroke="#35358e" stroke-width="1.56" fill="none" stroke-linecap="round"/>
<path d="M47,493 Q51,490.5 55,488.5" stroke="#35358e" stroke-width="1.30" fill="none" stroke-linecap="round"/>
<path d="M59,502 Q62,503 64.5,505" stroke="#35358e" stroke-width="1.30" fill="none" stroke-linecap="round"/>
<path d="M44.5,507.5 l1.5,-2 l1,2.2 z" fill="#35358e"/>
<path d="M39,499.5 l3,1.5 l-0.5,-2.5 z" fill="#35358e"/>
<path d="M45,487.5 q4,-3 9,-1" stroke="#b4b4dc" stroke-width="0.6" fill="none"/>
<path d="M60,484.5 q3,1 4,4" stroke="#b4b4dc" stroke-width="0.6" fill="none"/>
<path d="M64,503 q3,-2 2,-6" stroke="#b4b4dc" stroke-width="0.6" fill="none"/>
<path d="M41,506 q2,2 6,2" stroke="#b4b4dc" stroke-width="0.6" fill="none"/>
<path d="M34,522.6 C36.8,528 38.0,540 37.5,551 C37.1,558.5 35.6,563.8 34.2,563.7 C32.6,563.5 31.8,553 31.9,543 C32.0,533 32.9,526.5 34,522.6 Z" fill="#4a3ea8"/>
<circle cx="43.3" cy="555.4" r="9.4" fill="#2e9e46"/>
<text x="43.60" y="558.20" font-size="7.6" text-anchor="middle" fill="#fff" textLength="15.6" lengthAdjust="spacingAndGlyphs">Y449</text>
<line x1="58.39" y1="564.85" x2="57.39" y2="555.65" stroke="#3aa84a" stroke-width="1.25"/>
<line x1="55.61" y1="565.15" x2="54.61" y2="555.95" stroke="#3aa84a" stroke-width="1.25"/>
<line x1="53.26" y1="566.42" x2="44.76" y2="564.82" stroke="#3aa84a" stroke-width="1.25"/>
<line x1="52.74" y1="569.18" x2="44.24" y2="567.58" stroke="#3aa84a" stroke-width="1.25"/>
<line x1="54.21" y1="566.99" x2="63.21" y2="575.99" stroke="#3aa84a" stroke-width="1.25"/>
<line x1="56.19" y1="565.01" x2="65.19" y2="574.01" stroke="#3aa84a" stroke-width="1.25"/>
<line x1="63.40" y1="583.89" x2="62.80" y2="576.19" stroke="#7c7c7c" stroke-width="1.25"/>
<line x1="60.60" y1="584.11" x2="60.00" y2="576.41" stroke="#7c7c7c" stroke-width="1.25"/>
<line x1="56.34" y1="586.24" x2="47.64" y2="584.04" stroke="#7c7c7c" stroke-width="1.25"/>
<line x1="55.66" y1="588.96" x2="46.96" y2="586.76" stroke="#7c7c7c" stroke-width="1.25"/>
<line x1="57.14" y1="585.91" x2="65.34" y2="595.51" stroke="#7c7c7c" stroke-width="1.25"/>
<line x1="59.26" y1="584.09" x2="67.46" y2="593.69" stroke="#7c7c7c" stroke-width="1.25"/>
<circle cx="59.2" cy="599.8" r="5.2" fill="#c43030"/>
<circle cx="59.2" cy="599.8" r="5.0" fill="none" stroke="#a82222" stroke-width="0.6"/>
<circle cx="108.5" cy="523" r="5" fill="#a6d6f2"/>
<circle cx="114" cy="520.5" r="5.5" fill="#a6d6f2"/>
<circle cx="121" cy="519.8" r="5.8" fill="#a6d6f2"/>
<circle cx="128" cy="520.5" r="5.5" fill="#a6d6f2"/>
<circle cx="134.5" cy="521" r="5.5" fill="#a6d6f2"/>
<circle cx="139" cy="524" r="4" fill="#a6d6f2"/>
<circle cx="112" cy="526.5" r="4.5" fill="#a6d6f2"/>
<circle cx="120" cy="526.5" r="4.8" fill="#a6d6f2"/>
<circle cx="128" cy="526.5" r="4.5" fill="#a6d6f2"/>
<circle cx="136" cy="526.5" r="4" fill="#a6d6f2"/>
<text x="118.00" y="525.00" font-size="7.2" text-anchor="middle" fill="#fff" font-weight="bold" textLength="12.5" lengthAdjust="spacingAndGlyphs">DiO</text>
<circle cx="131.4" cy="528.2" r="5.2" fill="#5cb848" stroke="#3a9a38" stroke-width="0.7"/>
<circle cx="131.8" cy="527.6" r="0.9" fill="#e8ffe0"/>
<path d="M93.98,532.98 L94.09,533.66 L94.24,534.37 L94.39,535.08 L94.53,535.78 L94.63,536.45 L94.66,537.09 L94.62,537.69 L94.48,538.23 L94.24,538.72 L93.90,539.15 L93.46,539.52 L92.94,539.84 L92.34,540.13 L91.69,540.38 L91.01,540.62 L90.32,540.85 L89.66,541.09 L89.03,541.36 L88.47,541.66 L87.98,542.01 L87.59,542.41 L87.30,542.86 L87.12,543.38 L87.03,543.95 L87.02,544.57 L87.09,545.23 L87.21,545.92 L87.36,546.62 L87.51,547.33 L87.65,548.03 L87.74,548.70 L87.76,549.34 L87.71,549.93 L87.56,550.46 L87.31,550.95 L86.96,551.37 L86.52,551.74 L85.98,552.06 L85.38,552.34 L84.73,552.59 L84.04,552.82 L83.36,553.05 L82.69,553.30 L82.07,553.57 L81.52,553.87 L81.04,554.23 L80.66,554.63 L80.38,555.10 L80.20,555.62 L80.12,556.19 L80.13,556.82 L80.20,557.48 L80.32,558.17 L80.48,558.88 L80.63,559.58 L80.76,560.28 L80.84,560.95 L80.86,561.58 L80.80,562.17 L80.64,562.70 L80.38,563.17 L80.02,563.59 L79.57,563.95 L79.03,564.27 L78.42,564.54 L77.76,564.79 L77.08,565.03 L76.39,565.26 L75.73,565.51 L75.11,565.78 L74.57,566.09 L74.10,566.45 L73.73,566.86 L73.46,567.33 L73.46,567.95 L73.62,568.66 L73.77,569.36 L73.83,570.02 L73.78,570.62 L73.59,571.13" stroke="url(#gg0)" stroke-width="1.05" fill="none" stroke-linejoin="round"/>
<path d="M73.10,567.75 L72.85,572.44 L76.75,569.82 Z" fill="#52a83c"/>
<path d="M102.36,539.17 L102.44,539.86 L102.56,540.56 L102.70,541.28 L102.83,541.99 L102.92,542.68 L102.96,543.34 L102.93,543.95 L102.81,544.52 L102.60,545.02 L102.28,545.46 L101.86,545.84 L101.35,546.17 L100.76,546.45 L100.12,546.70 L99.44,546.92 L98.74,547.14 L98.05,547.36 L97.40,547.60 L96.81,547.88 L96.29,548.20 L95.86,548.58 L95.53,549.01 L95.30,549.51 L95.17,550.06 L95.13,550.67 L95.16,551.32 L95.25,552.01 L95.38,552.72 L95.51,553.44 L95.64,554.15 L95.72,554.83 L95.75,555.48 L95.70,556.09 L95.56,556.63 L95.32,557.12 L94.98,557.55 L94.54,557.92 L94.01,558.24 L93.41,558.51 L92.76,558.75 L92.07,558.97 L91.37,559.19 L90.69,559.41 L90.05,559.66 L89.47,559.95 L88.97,560.28 L88.57,560.67 L88.26,561.12 L88.05,561.63 L87.94,562.19 L87.92,562.81 L87.97,563.48 L88.07,564.17 L88.20,564.88 L88.33,565.60 L88.45,566.30 L88.52,566.98 L88.54,567.62 L88.47,568.21 L88.30,568.75 L88.04,569.22 L87.68,569.64 L87.22,570.00 L86.67,570.30 L86.06,570.57 L85.39,570.80 L84.70,571.02 L84.00,571.24 L83.33,571.46 L82.70,571.72 L82.14,572.02 L81.66,572.36 L81.28,572.76 L80.99,573.23 L80.96,573.84 L81.11,574.56 L81.23,575.27 L81.28,575.94 L81.22,576.53 L81.02,577.04" stroke="url(#gg1)" stroke-width="1.05" fill="none" stroke-linejoin="round"/>
<path d="M80.61,573.65 L80.24,578.33 L84.21,575.81 Z" fill="#52a83c"/>
<path d="M110.02,544.61 L110.12,545.31 L110.24,546.02 L110.36,546.73 L110.46,547.42 L110.51,548.09 L110.49,548.71 L110.40,549.29 L110.21,549.81 L109.92,550.26 L109.54,550.66 L109.06,550.99 L108.50,551.28 L107.88,551.53 L107.21,551.74 L106.52,551.95 L105.83,552.15 L105.17,552.37 L104.55,552.62 L103.99,552.91 L103.52,553.25 L103.14,553.64 L102.85,554.10 L102.67,554.62 L102.58,555.20 L102.56,555.82 L102.62,556.49 L102.71,557.19 L102.84,557.90 L102.96,558.61 L103.06,559.30 L103.11,559.97 L103.09,560.59 L103.00,561.17 L102.81,561.68 L102.52,562.14 L102.14,562.54 L101.66,562.87 L101.11,563.16 L100.48,563.41 L99.82,563.63 L99.13,563.83 L98.43,564.03 L97.77,564.25 L97.15,564.50 L96.59,564.79 L96.12,565.13 L95.74,565.52 L95.45,565.98 L95.27,566.50 L95.17,567.08 L95.16,567.70 L95.21,568.37 L95.31,569.06 L95.43,569.77 L95.55,570.48 L95.65,571.18 L95.70,571.85 L95.69,572.47 L95.59,573.05 L95.41,573.56 L95.12,574.02 L94.74,574.42 L94.26,574.75 L93.71,575.04 L93.09,575.29 L92.42,575.51 L91.73,575.71 L91.04,575.91 L90.37,576.13 L89.75,576.38 L89.19,576.67 L88.72,577.01 L88.34,577.40 L88.05,577.86 L88.03,578.48 L88.16,579.20 L88.28,579.90 L88.32,580.56 L88.24,581.15 L88.03,581.65" stroke="url(#gg2)" stroke-width="1.05" fill="none" stroke-linejoin="round"/>
<path d="M87.67,578.25 L87.24,582.92 L91.24,580.47 Z" fill="#52a83c"/>
<path d="M147.19,577.84 L146.66,577.47 L146.06,577.13 L145.41,576.82 L144.73,576.52 L144.06,576.21 L143.42,575.89 L142.84,575.55 L142.34,575.17 L141.93,574.75 L141.63,574.28 L141.44,573.76 L141.35,573.19 L141.37,572.58 L141.48,571.93 L141.65,571.25 L141.86,570.55 L142.08,569.85 L142.30,569.15 L142.47,568.47 L142.58,567.81 L142.61,567.20 L142.53,566.63 L142.35,566.10 L142.06,565.63 L141.66,565.20 L141.16,564.82 L140.59,564.48 L139.95,564.15 L139.28,563.85 L138.61,563.55 L137.95,563.23 L137.35,562.90 L136.81,562.54 L136.36,562.13 L136.02,561.68 L135.79,561.18 L135.66,560.63 L135.65,560.04 L135.72,559.40 L135.87,558.73 L136.07,558.04 L136.29,557.33 L136.51,556.63 L136.70,555.94 L136.84,555.28 L136.90,554.64 L136.87,554.06 L136.73,553.51 L136.48,553.02 L136.12,552.58 L135.65,552.18 L135.11,551.82 L134.49,551.49 L133.83,551.18 L133.16,550.88 L132.49,550.57 L131.86,550.25 L131.30,549.90 L130.82,549.51 L130.43,549.08 L130.15,548.60 L129.99,548.07 L129.93,547.49 L129.97,546.87 L130.09,546.21 L130.28,545.52 L130.49,544.82 L130.72,544.12 L130.92,543.42 L131.09,542.74 L131.18,542.10 L131.18,541.49 L131.08,540.93 L130.88,540.42 L130.42,540.02 L129.73,539.73 L129.06,539.42 L128.48,539.08 L128.01,538.68 L127.71,538.21" stroke="url(#bb0)" stroke-width="1.05" fill="none" stroke-linejoin="round"/>
<path d="M130.73,539.82 L127.10,536.84 L126.89,541.53 Z" fill="#2a3a92"/>
<path d="M152.95,574.09 L152.33,573.77 L151.68,573.46 L151.02,573.16 L150.39,572.84 L149.79,572.51 L149.27,572.15 L148.82,571.75 L148.48,571.31 L148.24,570.83 L148.11,570.29 L148.08,569.72 L148.15,569.10 L148.29,568.45 L148.48,567.78 L148.70,567.10 L148.93,566.41 L149.14,565.73 L149.30,565.07 L149.40,564.45 L149.41,563.85 L149.32,563.30 L149.13,562.80 L148.83,562.34 L148.42,561.93 L147.93,561.55 L147.36,561.21 L146.74,560.89 L146.09,560.58 L145.43,560.28 L144.79,559.96 L144.21,559.63 L143.69,559.26 L143.25,558.86 L142.92,558.42 L142.69,557.93 L142.57,557.39 L142.54,556.81 L142.61,556.19 L142.76,555.54 L142.95,554.87 L143.18,554.19 L143.41,553.50 L143.61,552.82 L143.77,552.17 L143.86,551.54 L143.87,550.95 L143.77,550.40 L143.57,549.90 L143.26,549.45 L142.84,549.04 L142.34,548.67 L141.77,548.32 L141.14,548.01 L140.49,547.70 L139.83,547.39 L139.20,547.08 L138.62,546.74 L138.11,546.37 L137.68,545.97 L137.35,545.52 L137.13,545.03 L137.02,544.49 L137.01,543.91 L137.08,543.29 L137.23,542.63 L137.43,541.96 L137.66,541.27 L137.88,540.59 L138.09,539.91 L138.24,539.26 L138.32,538.63 L138.32,538.05 L138.21,537.51 L138.00,537.01 L137.51,536.63 L136.84,536.33 L136.20,536.02 L135.63,535.68 L135.19,535.28 L134.90,534.82" stroke="url(#bb1)" stroke-width="1.05" fill="none" stroke-linejoin="round"/>
<path d="M137.89,536.47 L134.30,533.44 L134.04,538.13 Z" fill="#2a3a92"/>
<path d="M160.60,569.97 L160.01,569.64 L159.37,569.32 L158.71,569.02 L158.04,568.72 L157.41,568.40 L156.83,568.06 L156.32,567.69 L155.91,567.28 L155.60,566.82 L155.39,566.31 L155.30,565.76 L155.30,565.16 L155.39,564.52 L155.55,563.86 L155.76,563.17 L155.98,562.48 L156.20,561.79 L156.39,561.11 L156.52,560.45 L156.57,559.83 L156.53,559.26 L156.39,558.73 L156.14,558.24 L155.78,557.80 L155.32,557.41 L154.77,557.06 L154.17,556.73 L153.52,556.42 L152.85,556.12 L152.19,555.81 L151.57,555.49 L151.01,555.14 L150.53,554.76 L150.15,554.33 L149.87,553.86 L149.70,553.34 L149.64,552.77 L149.67,552.16 L149.79,551.51 L149.96,550.84 L150.18,550.15 L150.40,549.45 L150.61,548.77 L150.79,548.09 L150.89,547.45 L150.92,546.84 L150.85,546.28 L150.67,545.76 L150.38,545.29 L149.99,544.87 L149.51,544.49 L148.94,544.14 L148.32,543.82 L147.66,543.52 L146.99,543.21 L146.35,542.90 L145.74,542.58 L145.21,542.22 L144.75,541.82 L144.40,541.38 L144.16,540.89 L144.02,540.36 L143.99,539.78 L144.05,539.15 L144.18,538.50 L144.37,537.82 L144.59,537.13 L144.82,536.43 L145.02,535.75 L145.18,535.08 L145.26,534.45 L145.26,533.86 L145.15,533.31 L144.94,532.80 L144.47,532.42 L143.79,532.12 L143.13,531.82 L142.56,531.47 L142.10,531.08 L141.80,530.61" stroke="url(#bb2)" stroke-width="1.05" fill="none" stroke-linejoin="round"/>
<path d="M144.81,532.24 L141.20,529.24 L140.97,533.93 Z" fill="#2a3a92"/>
<path d="M42.52,598.31 L42.17,598.68 L41.79,598.97 L41.38,599.19 L40.93,599.32 L40.45,599.37 L39.94,599.34 L39.40,599.25 L38.84,599.11 L38.27,598.93 L37.69,598.73 L37.11,598.53 L36.54,598.35 L35.98,598.20 L35.44,598.11 L34.93,598.09 L34.45,598.14 L34.00,598.27 L33.59,598.48 L33.21,598.78 L32.86,599.15 L32.53,599.59 L32.23,600.08 L31.94,600.60 L31.66,601.15 L31.38,601.69 L31.09,602.22 L30.78,602.71 L30.46,603.15 L30.11,603.52 L29.73,603.81 L29.31,604.03 L28.86,604.16 L28.38,604.21 L27.87,604.18 L27.34,604.09 L26.78,603.95 L26.21,603.77 L25.63,603.57 L25.05,603.37 L24.47,603.19 L23.92,603.04 L23.38,602.95 L22.87,602.93 L22.39,602.98 L21.94,603.11 L21.53,603.32 L21.14,603.62 L20.79,603.99 L20.47,604.43 L20.16,604.92 L19.88,605.44 L19.59,605.99 L19.31,606.53 L19.02,607.06 L18.72,607.55 L18.39,607.99 L18.04,608.36 L17.66,608.65 L17.25,608.87 L16.80,609.00 L16.32,609.05 L15.81,609.02 L15.27,608.93 L14.71,608.79 L14.14,608.61 L13.56,608.41 L12.98,608.21 L12.41,608.03 L11.85,607.88 L11.31,607.79 L10.80,607.77 L10.32,607.82 L9.87,607.95 L9.51,608.28 L9.22,608.80 L8.93,609.33 L8.63,609.83 L8.30,610.26 L7.94,610.60 L7.53,610.83" stroke="url(#yy0)" stroke-width="1.05" fill="none" stroke-linejoin="round"/>
<path d="M9.25,607.87 L6.14,611.39 L10.82,611.77 Z" fill="#e2c81c"/>
<path d="M46.69,602.68 L46.37,603.24 L46.05,603.82 L45.73,604.40 L45.41,604.96 L45.07,605.47 L44.71,605.93 L44.31,606.30 L43.88,606.58 L43.42,606.77 L42.92,606.85 L42.38,606.85 L41.81,606.76 L41.22,606.61 L40.61,606.41 L39.99,606.18 L39.37,605.96 L38.75,605.75 L38.16,605.59 L37.59,605.49 L37.04,605.47 L36.54,605.55 L36.06,605.72 L35.63,605.98 L35.23,606.34 L34.86,606.78 L34.52,607.29 L34.19,607.85 L33.88,608.43 L33.56,609.01 L33.24,609.57 L32.90,610.08 L32.53,610.53 L32.14,610.90 L31.71,611.18 L31.24,611.36 L30.74,611.45 L30.20,611.44 L29.63,611.35 L29.04,611.20 L28.43,610.99 L27.81,610.77 L27.19,610.54 L26.57,610.34 L25.98,610.18 L25.41,610.08 L24.87,610.07 L24.36,610.14 L23.89,610.31 L23.46,610.59 L23.06,610.95 L22.69,611.39 L22.35,611.90 L22.02,612.46 L21.71,613.04 L21.39,613.62 L21.07,614.18 L20.73,614.69 L20.36,615.14 L19.96,615.50 L19.53,615.78 L19.06,615.96 L18.56,616.04 L18.02,616.03 L17.45,615.94 L16.86,615.78 L16.25,615.58 L15.63,615.35 L15.01,615.13 L14.39,614.92 L13.80,614.77 L13.23,614.67 L12.69,614.66 L12.18,614.74 L11.71,614.91 L11.38,615.45 L11.06,616.01 L10.73,616.56 L10.37,617.03 L9.98,617.40 L9.54,617.65" stroke="url(#yy1)" stroke-width="1.05" fill="none" stroke-linejoin="round"/>
<path d="M11.32,614.73 L8.13,618.18 L12.80,618.66 Z" fill="#e2c81c"/>
<path d="M51.48,608.60 L51.10,609.06 L50.75,609.58 L50.41,610.15 L50.09,610.74 L49.76,611.33 L49.42,611.90 L49.07,612.41 L48.68,612.85 L48.27,613.21 L47.82,613.47 L47.33,613.62 L46.80,613.67 L46.24,613.63 L45.65,613.51 L45.03,613.33 L44.40,613.11 L43.77,612.87 L43.14,612.64 L42.52,612.44 L41.92,612.31 L41.35,612.25 L40.81,612.28 L40.32,612.41 L39.86,612.64 L39.43,612.98 L39.04,613.40 L38.68,613.90 L38.34,614.46 L38.01,615.05 L37.69,615.64 L37.35,616.22 L37.00,616.75 L36.63,617.22 L36.23,617.61 L35.79,617.90 L35.31,618.09 L34.80,618.18 L34.25,618.17 L33.67,618.08 L33.06,617.92 L32.44,617.71 L31.80,617.47 L31.17,617.23 L30.54,617.02 L29.94,616.86 L29.36,616.78 L28.81,616.77 L28.30,616.87 L27.83,617.07 L27.39,617.37 L26.99,617.76 L26.62,618.24 L26.27,618.77 L25.94,619.35 L25.61,619.95 L25.28,620.53 L24.94,621.08 L24.58,621.58 L24.19,622.00 L23.76,622.33 L23.30,622.56 L22.80,622.68 L22.26,622.71 L21.69,622.64 L21.09,622.50 L20.47,622.30 L19.84,622.07 L19.20,621.83 L18.57,621.61 L17.96,621.43 L17.37,621.32 L16.81,621.28 L16.29,621.34 L15.80,621.50 L15.44,622.00 L15.10,622.57 L14.76,623.13 L14.40,623.62 L13.99,624.00 L13.54,624.25" stroke="url(#yy2)" stroke-width="1.05" fill="none" stroke-linejoin="round"/>
<path d="M15.34,621.35 L12.13,624.77 L16.80,625.28 Z" fill="#e2c81c"/>
<text x="108.60" y="568.00" font-size="8.3" text-anchor="middle" fill="#333" stroke="#333" stroke-width="0.1" textLength="24.5" lengthAdjust="spacingAndGlyphs" transform="rotate(-55 108.60 568.00)">Energy</text>
<text x="117.40" y="574.30" font-size="8.3" text-anchor="middle" fill="#333" stroke="#333" stroke-width="0.1" textLength="27.5" lengthAdjust="spacingAndGlyphs" transform="rotate(-56 117.40 574.30)">transfer</text>
<text x="156.20" y="545.80" font-size="8.3" text-anchor="middle" fill="#333" stroke="#333" stroke-width="0.1" textLength="23.5" lengthAdjust="spacingAndGlyphs" transform="rotate(56 156.20 545.80)">488nm</text>
<text x="21.90" y="591.60" font-size="8.3" text-anchor="middle" fill="#333" stroke="#333" stroke-width="0.1" textLength="24.5" lengthAdjust="spacingAndGlyphs" transform="rotate(-28 21.90 591.60)">595nm</text>
<text x="27.40" y="599.40" font-size="8.3" text-anchor="middle" fill="#333" stroke="#333" stroke-width="0.1" textLength="19.5" lengthAdjust="spacingAndGlyphs" transform="rotate(-28 27.40 599.40)">FRET</text>
<text x="241.30" y="484.70" font-size="7.8" text-anchor="middle" fill="#333" stroke="#333" stroke-width="0.1" textLength="25.6" lengthAdjust="spacingAndGlyphs">No IL-7</text>
<text x="296.40" y="484.70" font-size="7.8" text-anchor="middle" fill="#333" stroke="#333" stroke-width="0.1" textLength="19.9" lengthAdjust="spacingAndGlyphs">+ IL-7</text>
<text x="209.60" y="518.70" font-size="7.8" text-anchor="middle" fill="#333" stroke="#333" stroke-width="0.1" textLength="11.9" lengthAdjust="spacingAndGlyphs" transform="rotate(-90 209.60 518.70)">WT</text>
<text x="209.60" y="575.00" font-size="8.2" text-anchor="middle" fill="#333" stroke="#333" stroke-width="0.1" textLength="37" lengthAdjust="spacingAndGlyphs" transform="rotate(-90 209.60 575.00)">VAV-CRE</text>
<rect x="215.30" y="490.10" width="134.10" height="55.60" fill="none" stroke="#a02840" stroke-width="1.2"/>
<rect x="215.40" y="490.60" width="54.40" height="54.60" fill="#231f1d"/>
<g filter="url(#dotblur)"><circle cx="242.60" cy="491.90" r="1.45" fill="#848c80"/><circle cx="255.50" cy="495.70" r="1.45" fill="#848c80"/><circle cx="260.00" cy="494.40" r="1.45" fill="#848c80"/><circle cx="227.20" cy="500.20" r="1.45" fill="#848c80"/><circle cx="237.50" cy="507.30" r="1.45" fill="#848c80"/><circle cx="259.40" cy="509.30" r="1.45" fill="#848c80"/><circle cx="235.60" cy="511.80" r="1.45" fill="#848c80"/><circle cx="247.10" cy="513.80" r="1.45" fill="#848c80"/><circle cx="234.90" cy="515.70" r="1.45" fill="#848c80"/><circle cx="264.50" cy="515.70" r="1.45" fill="#848c80"/><circle cx="267.10" cy="515.00" r="1.45" fill="#848c80"/><circle cx="218.80" cy="517.00" r="1.45" fill="#848c80"/><circle cx="216.90" cy="507.30" r="1.45" fill="#848c80"/><circle cx="227.20" cy="529.90" r="1.45" fill="#848c80"/><circle cx="225.20" cy="533.10" r="1.45" fill="#848c80"/><circle cx="228.50" cy="531.80" r="1.45" fill="#848c80"/><circle cx="254.20" cy="534.40" r="1.45" fill="#848c80"/><circle cx="262.00" cy="532.50" r="1.45" fill="#848c80"/><circle cx="262.60" cy="537.60" r="1.45" fill="#848c80"/><circle cx="254.90" cy="539.50" r="1.45" fill="#848c80"/><circle cx="218.80" cy="539.50" r="1.45" fill="#848c80"/><circle cx="225.20" cy="539.50" r="1.45" fill="#848c80"/><circle cx="237.50" cy="540.80" r="1.45" fill="#848c80"/><circle cx="261.30" cy="542.10" r="1.45" fill="#848c80"/><circle cx="268.40" cy="535.00" r="1.45" fill="#848c80"/><circle cx="247.80" cy="545.00" r="1.45" fill="#848c80"/></g>
<rect x="264.40" y="492.20" width="4.00" height="16.20" fill="#fff"/>
<rect x="265.60" y="493.20" width="1.60" height="14.20" fill="url(#cbar)"/>
<rect x="273.40" y="490.60" width="55.20" height="54.60" fill="#231f1d"/>
<g filter="url(#dotblur)"><circle cx="276.40" cy="493.20" r="1.45" fill="#a89a80"/><circle cx="282.20" cy="497.00" r="1.45" fill="#a89a80"/><circle cx="281.00" cy="501.50" r="1.45" fill="#a89a80"/><circle cx="285.50" cy="505.40" r="1.45" fill="#a89a80"/><circle cx="290.00" cy="506.00" r="1.45" fill="#a89a80"/><circle cx="297.70" cy="504.10" r="1.45" fill="#a89a80"/><circle cx="295.10" cy="508.60" r="1.45" fill="#a89a80"/><circle cx="304.10" cy="508.60" r="1.45" fill="#a89a80"/><circle cx="309.30" cy="499.60" r="1.45" fill="#a89a80"/><circle cx="312.50" cy="495.70" r="1.45" fill="#a89a80"/><circle cx="318.30" cy="504.10" r="1.45" fill="#a89a80"/><circle cx="278.40" cy="509.30" r="1.45" fill="#a89a80"/><circle cx="288.00" cy="516.40" r="1.45" fill="#a89a80"/><circle cx="278.40" cy="525.40" r="1.45" fill="#a89a80"/><circle cx="282.20" cy="524.70" r="1.45" fill="#a89a80"/><circle cx="285.50" cy="524.10" r="1.45" fill="#a89a80"/><circle cx="282.90" cy="526.70" r="1.45" fill="#a89a80"/><circle cx="293.80" cy="522.80" r="1.45" fill="#a89a80"/><circle cx="297.70" cy="520.90" r="1.45" fill="#a89a80"/><circle cx="297.10" cy="524.10" r="1.45" fill="#a89a80"/><circle cx="304.80" cy="519.60" r="1.45" fill="#a89a80"/><circle cx="313.20" cy="522.10" r="1.45" fill="#a89a80"/><circle cx="308.00" cy="525.40" r="1.45" fill="#a89a80"/><circle cx="297.70" cy="527.30" r="1.45" fill="#a89a80"/><circle cx="285.50" cy="530.50" r="1.45" fill="#a89a80"/><circle cx="290.60" cy="533.10" r="1.45" fill="#a89a80"/><circle cx="307.40" cy="533.10" r="1.45" fill="#a89a80"/><circle cx="309.30" cy="533.70" r="1.45" fill="#a89a80"/><circle cx="284.80" cy="537.60" r="1.45" fill="#a89a80"/><circle cx="290.60" cy="538.90" r="1.45" fill="#a89a80"/><circle cx="300.30" cy="541.50" r="1.45" fill="#a89a80"/><circle cx="311.90" cy="541.50" r="1.45" fill="#a89a80"/><circle cx="321.50" cy="543.40" r="1.45" fill="#a89a80"/><circle cx="326.10" cy="538.30" r="1.45" fill="#a89a80"/><circle cx="288.00" cy="542.10" r="1.45" fill="#a89a80"/></g>
<rect x="323.20" y="492.20" width="4.00" height="16.20" fill="#fff"/>
<rect x="324.40" y="493.20" width="1.60" height="14.20" fill="url(#cbar)"/>
<text x="332.80" y="498.70" font-size="8.0" text-anchor="start" fill="#333" stroke="#333" stroke-width="0.1">2</text>
<text x="332.80" y="509.70" font-size="8.0" text-anchor="start" fill="#333" stroke="#333" stroke-width="0.1" textLength="11.2" lengthAdjust="spacingAndGlyphs">0.5</text>
<rect x="215.30" y="549.70" width="134.10" height="56.20" fill="none" stroke="#6e8fb2" stroke-width="1.2"/>
<rect x="215.40" y="550.20" width="54.40" height="55.20" fill="#231f1d"/>
<g filter="url(#dotblur)"><circle cx="226.50" cy="557.30" r="1.45" fill="#a8987a"/><circle cx="234.30" cy="554.70" r="1.45" fill="#a8987a"/><circle cx="238.80" cy="556.70" r="1.45" fill="#a8987a"/><circle cx="240.60" cy="557.80" r="1.45" fill="#a8987a"/><circle cx="254.20" cy="558.00" r="1.45" fill="#a8987a"/><circle cx="258.70" cy="552.80" r="1.45" fill="#a8987a"/><circle cx="229.80" cy="566.30" r="1.45" fill="#a8987a"/><circle cx="233.60" cy="567.60" r="1.45" fill="#a8987a"/><circle cx="227.80" cy="570.20" r="1.45" fill="#a8987a"/><circle cx="231.00" cy="570.80" r="1.45" fill="#a8987a"/><circle cx="240.70" cy="566.30" r="1.45" fill="#a8987a"/><circle cx="253.60" cy="566.30" r="1.45" fill="#a8987a"/><circle cx="256.80" cy="566.30" r="1.45" fill="#a8987a"/><circle cx="259.40" cy="568.30" r="1.45" fill="#a8987a"/><circle cx="227.20" cy="574.70" r="1.45" fill="#a8987a"/><circle cx="240.10" cy="573.40" r="1.45" fill="#a8987a"/><circle cx="225.90" cy="581.80" r="1.45" fill="#a8987a"/><circle cx="229.10" cy="581.80" r="1.45" fill="#a8987a"/><circle cx="233.00" cy="579.90" r="1.45" fill="#a8987a"/><circle cx="227.20" cy="585.00" r="1.45" fill="#a8987a"/><circle cx="231.00" cy="585.00" r="1.45" fill="#a8987a"/><circle cx="234.30" cy="587.00" r="1.45" fill="#a8987a"/><circle cx="243.30" cy="586.30" r="1.45" fill="#a8987a"/><circle cx="246.50" cy="582.40" r="1.45" fill="#a8987a"/><circle cx="247.80" cy="585.70" r="1.45" fill="#a8987a"/><circle cx="260.00" cy="581.80" r="1.45" fill="#a8987a"/><circle cx="225.90" cy="589.50" r="1.45" fill="#a8987a"/><circle cx="232.30" cy="591.50" r="1.45" fill="#a8987a"/><circle cx="247.80" cy="590.80" r="1.45" fill="#a8987a"/><circle cx="220.10" cy="594.70" r="1.45" fill="#a8987a"/><circle cx="224.60" cy="594.70" r="1.45" fill="#a8987a"/><circle cx="228.50" cy="597.90" r="1.45" fill="#a8987a"/><circle cx="225.20" cy="599.20" r="1.45" fill="#a8987a"/><circle cx="258.10" cy="594.70" r="1.45" fill="#a8987a"/><circle cx="261.30" cy="597.30" r="1.45" fill="#a8987a"/><circle cx="267.10" cy="596.00" r="1.45" fill="#a8987a"/><circle cx="234.30" cy="603.70" r="1.45" fill="#a8987a"/><circle cx="242.00" cy="603.70" r="1.45" fill="#a8987a"/><circle cx="260.00" cy="601.10" r="1.45" fill="#a8987a"/><circle cx="218.80" cy="599.20" r="1.45" fill="#a8987a"/></g>
<rect x="264.40" y="551.80" width="4.00" height="16.20" fill="#fff"/>
<rect x="265.60" y="552.80" width="1.60" height="14.20" fill="url(#cbar)"/>
<rect x="273.40" y="550.20" width="55.20" height="55.20" fill="#231f1d"/>
<g filter="url(#dotblur)"><circle cx="292.60" cy="552.20" r="1.45" fill="#aca494"/><circle cx="317.00" cy="552.80" r="1.45" fill="#aca494"/><circle cx="312.50" cy="556.00" r="1.45" fill="#aca494"/><circle cx="311.90" cy="561.20" r="1.45" fill="#aca494"/><circle cx="319.60" cy="561.20" r="1.45" fill="#aca494"/><circle cx="312.50" cy="567.00" r="1.45" fill="#aca494"/><circle cx="285.50" cy="574.10" r="1.45" fill="#aca494"/><circle cx="300.30" cy="574.10" r="1.45" fill="#aca494"/><circle cx="310.00" cy="572.80" r="1.45" fill="#aca494"/><circle cx="275.80" cy="578.60" r="1.45" fill="#aca494"/><circle cx="323.50" cy="579.90" r="1.45" fill="#aca494"/><circle cx="315.70" cy="577.90" r="1.45" fill="#aca494"/><circle cx="279.70" cy="587.60" r="1.45" fill="#aca494"/><circle cx="286.80" cy="591.50" r="1.45" fill="#aca494"/><circle cx="296.40" cy="593.40" r="1.45" fill="#aca494"/><circle cx="291.90" cy="597.30" r="1.45" fill="#aca494"/><circle cx="315.70" cy="595.30" r="1.45" fill="#aca494"/><circle cx="326.10" cy="595.30" r="1.45" fill="#aca494"/><circle cx="295.10" cy="603.10" r="1.45" fill="#aca494"/></g>
<rect x="323.20" y="551.80" width="4.00" height="16.20" fill="#fff"/>
<rect x="324.40" y="552.80" width="1.60" height="14.20" fill="url(#cbar)"/>
<text x="332.80" y="558.30" font-size="8.0" text-anchor="start" fill="#333" stroke="#333" stroke-width="0.1">2</text>
<text x="332.80" y="569.30" font-size="8.0" text-anchor="start" fill="#333" stroke="#333" stroke-width="0.1" textLength="11.2" lengthAdjust="spacingAndGlyphs">0.5</text>
<text x="424.20" y="488.20" font-size="8.1" text-anchor="middle" fill="#333" stroke="#333" stroke-width="0.1" textLength="46.7" lengthAdjust="spacingAndGlyphs">DiO&#8217;/p-IL-7R&#945;</text>
<line x1="397.40" y1="510.50" x2="397.40" y2="583.80" stroke="#222" stroke-width="1.1"/>
<line x1="397.40" y1="583.80" x2="449.00" y2="583.80" stroke="#222" stroke-width="1.1"/>
<line x1="394.80" y1="583.80" x2="397.40" y2="583.80" stroke="#222" stroke-width="0.9"/>
<text x="391.40" y="586.75" font-size="8.3" text-anchor="end" fill="#333" stroke="#333" stroke-width="0.1" textLength="4.25" lengthAdjust="spacingAndGlyphs">0</text>
<line x1="394.80" y1="559.90" x2="397.40" y2="559.90" stroke="#222" stroke-width="0.9"/>
<text x="391.40" y="562.85" font-size="8.3" text-anchor="end" fill="#333" stroke="#333" stroke-width="0.1" textLength="10.61" lengthAdjust="spacingAndGlyphs">0.5</text>
<line x1="394.80" y1="536.00" x2="397.40" y2="536.00" stroke="#222" stroke-width="0.9"/>
<text x="391.40" y="538.95" font-size="8.3" text-anchor="end" fill="#333" stroke="#333" stroke-width="0.1" textLength="4.25" lengthAdjust="spacingAndGlyphs">1</text>
<line x1="394.80" y1="512.10" x2="397.40" y2="512.10" stroke="#222" stroke-width="0.9"/>
<text x="391.40" y="515.05" font-size="8.3" text-anchor="end" fill="#333" stroke="#333" stroke-width="0.1" textLength="10.61" lengthAdjust="spacingAndGlyphs">1.5</text>
<rect x="401.60" y="541.26" width="6.20" height="42.54" fill="#c8102e"/>
<line x1="404.70" y1="539.82" x2="404.70" y2="541.26" stroke="#111" stroke-width="0.8"/>
<line x1="403.20" y1="539.82" x2="406.20" y2="539.82" stroke="#111" stroke-width="0.8"/>
<rect x="412.50" y="536.00" width="6.20" height="47.80" fill="#1d4f91"/>
<line x1="415.60" y1="534.57" x2="415.60" y2="536.00" stroke="#111" stroke-width="0.8"/>
<line x1="414.10" y1="534.57" x2="417.10" y2="534.57" stroke="#111" stroke-width="0.8"/>
<rect x="430.30" y="536.00" width="6.00" height="47.80" fill="#c8102e"/>
<line x1="433.30" y1="534.57" x2="433.30" y2="536.00" stroke="#111" stroke-width="0.8"/>
<line x1="431.80" y1="534.57" x2="434.80" y2="534.57" stroke="#111" stroke-width="0.8"/>
<rect x="441.00" y="538.39" width="6.20" height="45.41" fill="#1d4f91"/>
<line x1="444.10" y1="536.96" x2="444.10" y2="538.39" stroke="#111" stroke-width="0.8"/>
<line x1="442.60" y1="536.96" x2="445.60" y2="536.96" stroke="#111" stroke-width="0.8"/>
<line x1="410.00" y1="583.80" x2="410.00" y2="586.00" stroke="#222" stroke-width="0.9"/>
<line x1="438.80" y1="583.80" x2="438.80" y2="586.00" stroke="#222" stroke-width="0.9"/>
<line x1="404.20" y1="503.30" x2="433.70" y2="503.30" stroke="#222" stroke-width="1.0"/>
<line x1="404.60" y1="502.20" x2="404.60" y2="504.40" stroke="#222" stroke-width="0.8"/>
<line x1="433.30" y1="502.20" x2="433.30" y2="504.40" stroke="#222" stroke-width="0.8"/>
<text x="418.70" y="503.40" font-size="9.8" text-anchor="middle" fill="#222" stroke="#222" stroke-width="0.1" textLength="10.5" lengthAdjust="spacingAndGlyphs">***</text>
<line x1="415.20" y1="517.70" x2="444.60" y2="517.70" stroke="#222" stroke-width="1.0"/>
<line x1="415.60" y1="516.60" x2="415.60" y2="518.80" stroke="#222" stroke-width="0.8"/>
<line x1="444.20" y1="516.60" x2="444.20" y2="518.80" stroke="#222" stroke-width="0.8"/>
<text x="429.40" y="513.70" font-size="7.8" text-anchor="middle" fill="#333" stroke="#333" stroke-width="0.1" textLength="13.3" lengthAdjust="spacingAndGlyphs">N.S.</text>
<line x1="404.20" y1="531.00" x2="415.80" y2="531.00" stroke="#222" stroke-width="1.0"/>
<line x1="404.60" y1="529.90" x2="404.60" y2="532.10" stroke="#222" stroke-width="0.8"/>
<line x1="415.40" y1="529.90" x2="415.40" y2="532.10" stroke="#222" stroke-width="0.8"/>
<text x="410.30" y="530.40" font-size="9.8" text-anchor="middle" fill="#222" stroke="#222" stroke-width="0.1" textLength="10.5" lengthAdjust="spacingAndGlyphs">***</text>
<line x1="433.10" y1="531.00" x2="444.60" y2="531.00" stroke="#222" stroke-width="1.0"/>
<line x1="433.50" y1="529.90" x2="433.50" y2="532.10" stroke="#222" stroke-width="0.8"/>
<line x1="444.20" y1="529.90" x2="444.20" y2="532.10" stroke="#222" stroke-width="0.8"/>
<text x="438.80" y="526.90" font-size="7.8" text-anchor="middle" fill="#333" stroke="#333" stroke-width="0.1" textLength="13.6" lengthAdjust="spacingAndGlyphs">N.S.</text>
<text x="374.60" y="549.00" font-size="8.8" text-anchor="middle" fill="#333" stroke="#333" stroke-width="0.1" textLength="48.9" lengthAdjust="spacingAndGlyphs" transform="rotate(-90 374.60 549.00)">FRET ef&#8204;f&#8204;iciency</text>
<text x="413.60" y="595.60" font-size="8.2" text-anchor="end" fill="#333" stroke="#333" stroke-width="0.1" textLength="24.5" lengthAdjust="spacingAndGlyphs" transform="rotate(-45 413.60 595.60)">No IL-7</text>
<text x="442.60" y="595.60" font-size="8.2" text-anchor="end" fill="#333" stroke="#333" stroke-width="0.1" transform="rotate(-45 442.60 595.60)">IL-7<tspan dy="-2.5" font-size="6">+</tspan></text>
</svg>
</body></html>
